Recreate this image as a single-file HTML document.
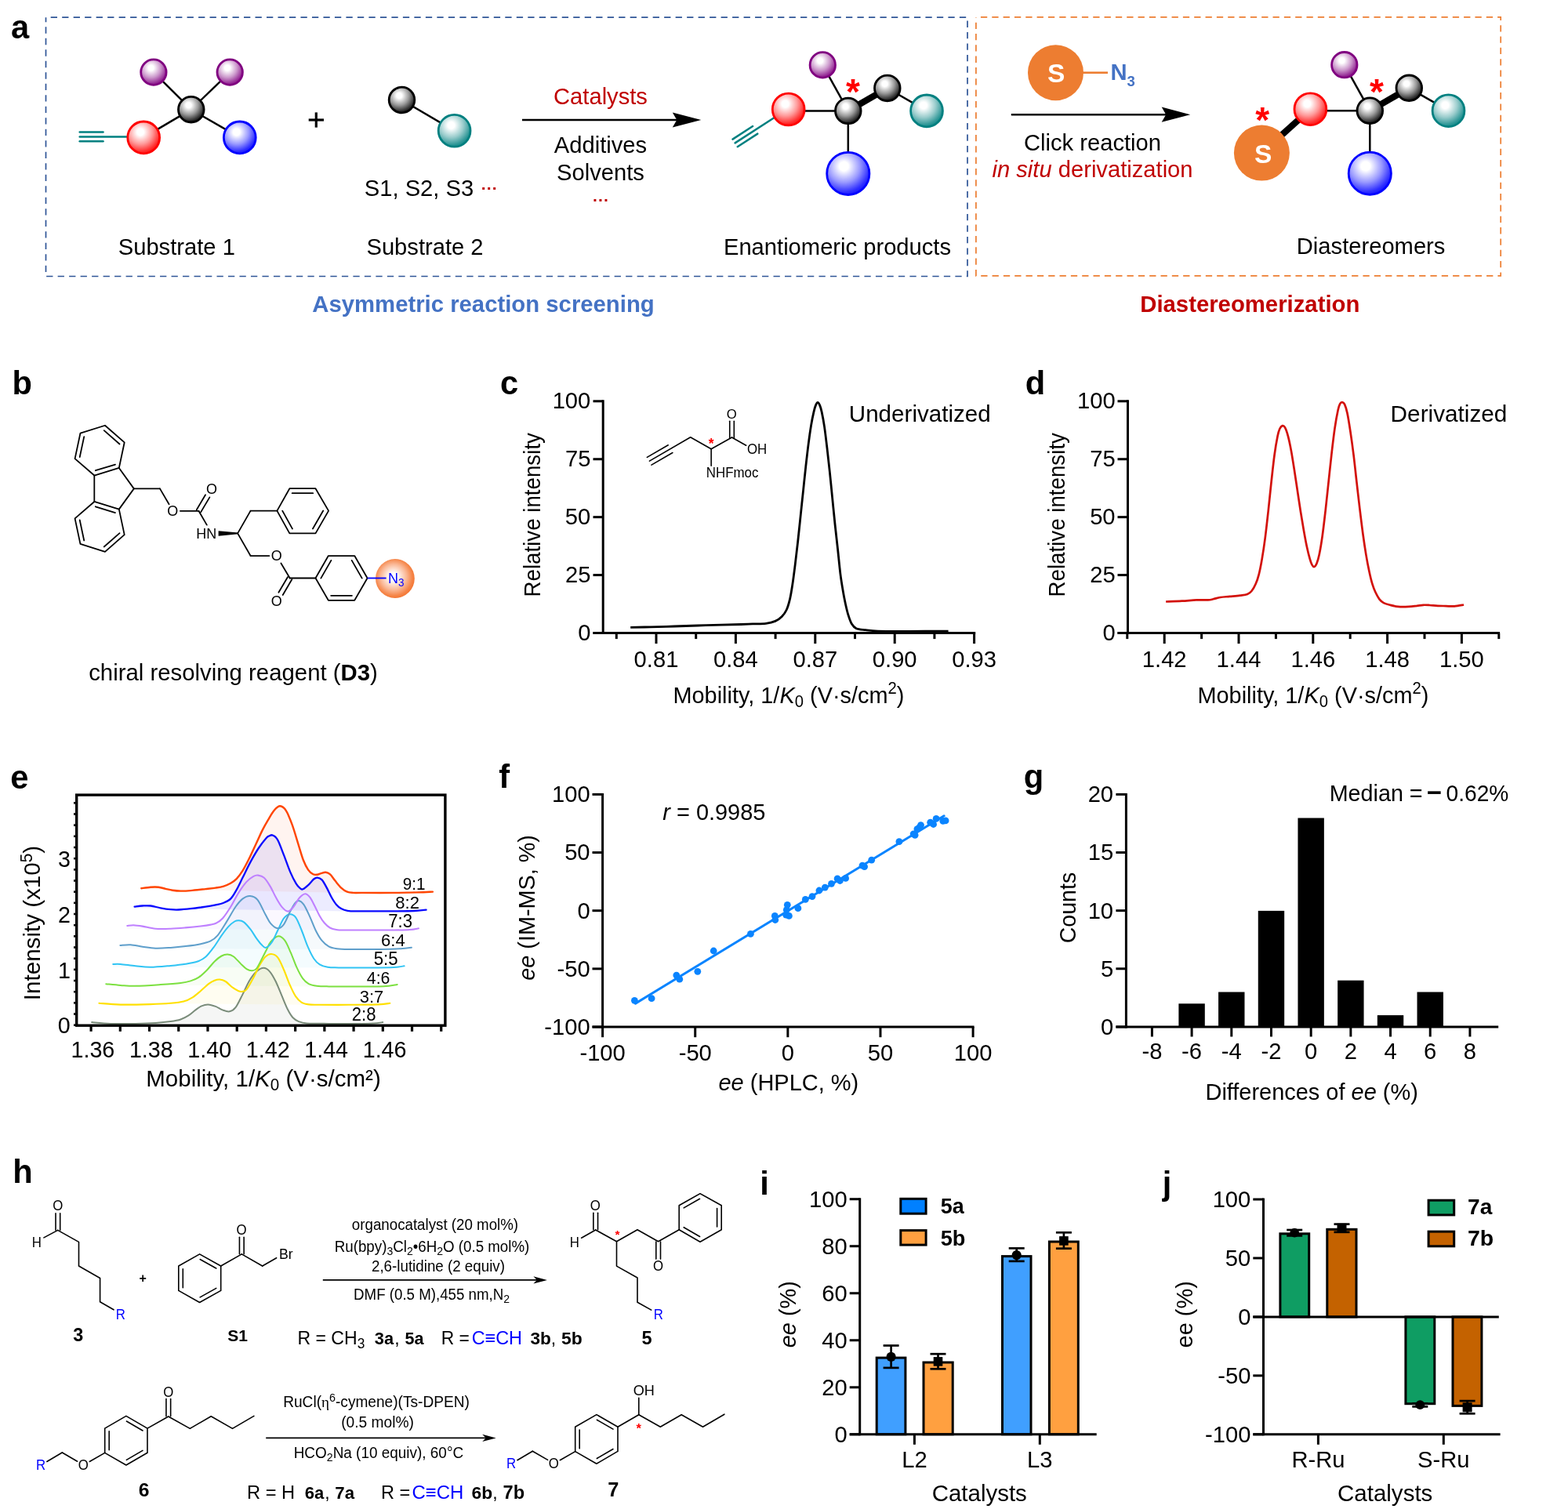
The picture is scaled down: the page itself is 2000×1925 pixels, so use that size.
<!DOCTYPE html>
<html lang="en"><head><meta charset="utf-8"><title>Figure</title>
<style>html,body{margin:0;padding:0;background:#fff}svg{display:block}</style></head>
<body>
<svg width="2000" height="1925" viewBox="0 0 2000 1925" font-family='"Liberation Sans", sans-serif' fill="#000">
<defs>
<radialGradient id="g_pu" cx="0.40" cy="0.33" r="0.76" fx="0.40" fy="0.33"><stop offset="0" stop-color="#fff"/><stop offset="0.14" stop-color="#fff"/><stop offset="0.5" stop-color="#cc99cc"/><stop offset="0.8" stop-color="#972e97"/><stop offset="1" stop-color="#800080"/></radialGradient>
<radialGradient id="g_bk" cx="0.40" cy="0.33" r="0.76" fx="0.40" fy="0.33"><stop offset="0" stop-color="#fff"/><stop offset="0.14" stop-color="#fff"/><stop offset="0.5" stop-color="#999999"/><stop offset="0.8" stop-color="#2e2e2e"/><stop offset="1" stop-color="#000000"/></radialGradient>
<radialGradient id="g_rd" cx="0.40" cy="0.33" r="0.76" fx="0.40" fy="0.33"><stop offset="0" stop-color="#fff"/><stop offset="0.14" stop-color="#fff"/><stop offset="0.5" stop-color="#ff9999"/><stop offset="0.8" stop-color="#ff2e2e"/><stop offset="1" stop-color="#FF0000"/></radialGradient>
<radialGradient id="g_bl" cx="0.40" cy="0.33" r="0.76" fx="0.40" fy="0.33"><stop offset="0" stop-color="#fff"/><stop offset="0.14" stop-color="#fff"/><stop offset="0.5" stop-color="#9999ff"/><stop offset="0.8" stop-color="#2e2eff"/><stop offset="1" stop-color="#0000FF"/></radialGradient>
<radialGradient id="g_tl" cx="0.40" cy="0.33" r="0.76" fx="0.40" fy="0.33"><stop offset="0" stop-color="#fff"/><stop offset="0.14" stop-color="#fff"/><stop offset="0.5" stop-color="#99cccc"/><stop offset="0.8" stop-color="#2e9797"/><stop offset="1" stop-color="#008080"/></radialGradient>
<radialGradient id="g_or" cx="0.47" cy="0.47" r="0.55" fx="0.45" fy="0.45"><stop offset="0" stop-color="#fff"/><stop offset="0.18" stop-color="#fff"/><stop offset="0.6" stop-color="#fab896"/><stop offset="0.86" stop-color="#f58548"/><stop offset="1" stop-color="#f47430"/></radialGradient>
</defs>
<!-- panel a -->
<text font-size="41.67" transform="translate(13.97 48.60)" font-weight="bold">a</text>
<path d="M58.5,22.2 H1234 V352.5 H58.5 Z" fill="none" stroke="#2F5597" stroke-width="1.7" stroke-dasharray="8.3 6.19" stroke-dashoffset="8.3"/>
<path d="M1244.9,21.9 H1914.2 V351.9 H1244.9 Z" fill="none" stroke="#ED7D31" stroke-width="1.7" stroke-dasharray="8.3 6.03" stroke-dashoffset="8.3"/>
<line x1="243.80" y1="139.70" x2="195.90" y2="92.10" stroke="#000" stroke-width="2.5" stroke-linecap="butt" />
<line x1="243.80" y1="139.70" x2="293.20" y2="92.10" stroke="#000" stroke-width="2.5" stroke-linecap="butt" />
<line x1="243.80" y1="139.70" x2="183.20" y2="175.40" stroke="#000" stroke-width="2.5" stroke-linecap="butt" />
<line x1="243.80" y1="139.70" x2="305.80" y2="175.40" stroke="#000" stroke-width="2.5" stroke-linecap="butt" />
<line x1="101.70" y1="168.50" x2="131.50" y2="168.50" stroke="#008080" stroke-width="2.5" stroke-linecap="round" />
<line x1="101.70" y1="180.30" x2="131.50" y2="180.30" stroke="#008080" stroke-width="2.5" stroke-linecap="round" />
<line x1="101.70" y1="174.40" x2="165.00" y2="174.40" stroke="#008080" stroke-width="2.5" stroke-linecap="round" />
<circle cx="195.90" cy="92.10" r="16.20" fill="url(#g_pu)" stroke="#800080" stroke-width="2.8" />
<circle cx="293.20" cy="92.10" r="16.20" fill="url(#g_pu)" stroke="#800080" stroke-width="2.8" />
<circle cx="243.80" cy="139.70" r="16.30" fill="url(#g_bk)" stroke="#000000" stroke-width="2.8" />
<circle cx="183.20" cy="175.40" r="20.40" fill="url(#g_rd)" stroke="#FF0000" stroke-width="2.8" />
<circle cx="305.80" cy="175.40" r="20.40" fill="url(#g_bl)" stroke="#0000FF" stroke-width="2.8" />
<line x1="393.70" y1="153.00" x2="413.00" y2="153.00" stroke="#000" stroke-width="3.2" stroke-linecap="butt" />
<line x1="403.30" y1="143.40" x2="403.30" y2="162.60" stroke="#000" stroke-width="3.2" stroke-linecap="butt" />
<line x1="512.50" y1="127.50" x2="579.60" y2="166.80" stroke="#000" stroke-width="2.5" stroke-linecap="butt" />
<circle cx="512.50" cy="127.50" r="16.30" fill="url(#g_bk)" stroke="#000000" stroke-width="2.8" />
<circle cx="579.60" cy="166.80" r="20.40" fill="url(#g_tl)" stroke="#008080" stroke-width="2.8" />
<text font-size="29.17" transform="translate(534.50 250.00) scale(1 1.038)" text-anchor="middle">S1, S2, S3</text>
<text font-size="21.00" transform="translate(613.70 246.50)" font-weight="bold" fill="#C00000">···</text>
<text font-size="29.17" transform="translate(225.30 325.20) scale(1 1.038)" text-anchor="middle">Substrate 1</text>
<text font-size="29.17" transform="translate(542.00 325.20) scale(1 1.038)" text-anchor="middle">Substrate 2</text>
<line x1="666.00" y1="153.00" x2="864.30" y2="153.00" stroke="#000" stroke-width="2.5" stroke-linecap="butt" />
<path d="M894.30,153.00 L857.80,143.40 L863.30,153.00 L857.80,162.60 Z" fill="#000"/>
<text font-size="29.17" transform="translate(766.00 132.90) scale(1 1.038)" text-anchor="middle" fill="#C00000">Catalysts</text>
<text font-size="29.17" transform="translate(766.00 195.30) scale(1 1.038)" text-anchor="middle">Additives</text>
<text font-size="29.17" transform="translate(766.00 230.30) scale(1 1.038)" text-anchor="middle">Solvents</text>
<text font-size="21.00" transform="translate(766.40 261.60)" text-anchor="middle" font-weight="bold" fill="#C00000">···</text>
<line x1="1081.80" y1="141.40" x2="1049.30" y2="82.90" stroke="#000" stroke-width="2.5" stroke-linecap="butt" />
<line x1="1081.80" y1="141.40" x2="1005.70" y2="141.40" stroke="#000" stroke-width="2.5" stroke-linecap="butt" />
<line x1="1081.80" y1="141.40" x2="1081.80" y2="221.40" stroke="#000" stroke-width="2.5" stroke-linecap="butt" />
<line x1="1131.80" y1="112.50" x2="1182.00" y2="141.40" stroke="#000" stroke-width="2.5" stroke-linecap="butt" />
<line x1="1081.80" y1="141.40" x2="1131.80" y2="112.50" stroke="#000" stroke-width="8.2" stroke-linecap="butt" />
<line x1="987.30" y1="150.30" x2="937.60" y2="182.40" stroke="#008080" stroke-width="2.5" stroke-linecap="round" />
<line x1="934.51" y1="177.61" x2="960.13" y2="161.06" stroke="#008080" stroke-width="2.5" stroke-linecap="round" />
<line x1="940.69" y1="187.19" x2="966.31" y2="170.64" stroke="#008080" stroke-width="2.5" stroke-linecap="round" />
<circle cx="1049.30" cy="82.90" r="16.20" fill="url(#g_pu)" stroke="#800080" stroke-width="2.8" />
<circle cx="1005.70" cy="139.50" r="20.40" fill="url(#g_rd)" stroke="#FF0000" stroke-width="2.8" />
<circle cx="1081.80" cy="141.40" r="16.30" fill="url(#g_bk)" stroke="#000000" stroke-width="2.8" />
<circle cx="1131.80" cy="112.50" r="16.30" fill="url(#g_bk)" stroke="#000000" stroke-width="2.8" />
<circle cx="1182.00" cy="141.40" r="20.40" fill="url(#g_tl)" stroke="#008080" stroke-width="2.8" />
<circle cx="1081.80" cy="221.40" r="27.10" fill="url(#g_bl)" stroke="#0000FF" stroke-width="2.8" />
<text font-size="46.00" transform="translate(1078.93 132.93)" font-weight="bold" fill="#FF0000">*</text>
<text font-size="29.17" transform="translate(1068.00 325.20) scale(1 1.038)" text-anchor="middle">Enantiomeric products</text>
<text font-size="29.30" transform="translate(616.50 397.50)" text-anchor="middle" font-weight="bold" fill="#4472C4">Asymmetric reaction screening</text>
<circle cx="1346.50" cy="92.70" r="35.50" fill="#ED7D31" stroke="none" stroke-width="0" />
<text font-size="33.50" transform="translate(1335.94 105.16)" font-weight="bold" fill="#fff">S</text>
<line x1="1381.00" y1="92.70" x2="1413.00" y2="92.70" stroke="#ED7D31" stroke-width="2.6" stroke-linecap="butt" />
<text font-size="29.20" transform="translate(1416.50 102.30)" font-weight="bold" fill="#4472C4">N<tspan font-size="18.5" dy="7.5">3</tspan></text>
<line x1="1289.80" y1="146.20" x2="1488.20" y2="146.20" stroke="#000" stroke-width="2.5" stroke-linecap="butt" />
<path d="M1518.20,146.20 L1481.70,136.60 L1487.20,146.20 L1481.70,155.80 Z" fill="#000"/>
<text font-size="29.17" transform="translate(1393.50 191.80) scale(1 1.038)" text-anchor="middle">Click reaction</text>
<text font-size="29.17" transform="translate(1393.50 225.90) scale(1 1.038)" text-anchor="middle" fill="#C00000"><tspan font-style="italic">in situ</tspan> derivatization</text>
<line x1="1747.30" y1="141.20" x2="1714.80" y2="82.70" stroke="#000" stroke-width="2.5" stroke-linecap="butt" />
<line x1="1747.30" y1="141.20" x2="1671.40" y2="141.20" stroke="#000" stroke-width="2.5" stroke-linecap="butt" />
<line x1="1747.30" y1="141.20" x2="1747.30" y2="221.20" stroke="#000" stroke-width="2.5" stroke-linecap="butt" />
<line x1="1797.30" y1="112.30" x2="1847.50" y2="141.20" stroke="#000" stroke-width="2.5" stroke-linecap="butt" />
<line x1="1747.30" y1="141.20" x2="1797.30" y2="112.30" stroke="#000" stroke-width="8.2" stroke-linecap="butt" />
<line x1="1609.40" y1="195.10" x2="1671.40" y2="139.20" stroke="#000" stroke-width="8.2" stroke-linecap="butt" />
<circle cx="1609.40" cy="195.10" r="35.50" fill="#ED7D31" stroke="none" stroke-width="0" />
<text font-size="33.50" transform="translate(1599.94 208.16)" font-weight="bold" fill="#fff">S</text>
<text font-size="46.00" transform="translate(1601.23 168.93)" font-weight="bold" fill="#FF0000">*</text>
<circle cx="1714.80" cy="82.70" r="16.20" fill="url(#g_pu)" stroke="#800080" stroke-width="2.8" />
<circle cx="1671.40" cy="139.20" r="20.40" fill="url(#g_rd)" stroke="#FF0000" stroke-width="2.8" />
<circle cx="1747.30" cy="141.20" r="16.30" fill="url(#g_bk)" stroke="#000000" stroke-width="2.8" />
<circle cx="1797.30" cy="112.30" r="16.30" fill="url(#g_bk)" stroke="#000000" stroke-width="2.8" />
<circle cx="1847.50" cy="141.20" r="20.40" fill="url(#g_tl)" stroke="#008080" stroke-width="2.8" />
<circle cx="1747.30" cy="221.20" r="27.10" fill="url(#g_bl)" stroke="#0000FF" stroke-width="2.8" />
<text font-size="46.00" transform="translate(1747.03 133.23)" font-weight="bold" fill="#FF0000">*</text>
<text font-size="29.17" transform="translate(1748.60 324.30) scale(1 1.038)" text-anchor="middle">Diastereomers</text>
<text font-size="29.30" transform="translate(1594.30 398.00)" text-anchor="middle" font-weight="bold" fill="#C00000">Diastereomerization</text>
<!-- panel b -->
<text font-size="41.67" transform="translate(15.45 502.50)" font-weight="bold">b</text>
<path d="M102.45,552.70 L133.95,542.76 L158.70,564.44 L151.81,596.96 L120.31,606.53 L95.56,585.10 Z" stroke="#000" stroke-width="1.8" fill="none" stroke-linejoin="round" stroke-linecap="butt" />
<line x1="132.74" y1="549.14" x2="152.54" y2="566.48" stroke="#000" stroke-width="1.8" stroke-linecap="round" />
<line x1="147.03" y1="592.56" x2="121.83" y2="600.21" stroke="#000" stroke-width="1.8" stroke-linecap="round" />
<line x1="101.73" y1="583.02" x2="107.24" y2="557.10" stroke="#000" stroke-width="1.8" stroke-linecap="round" />
<path d="M120.31,639.95 L151.81,649.64 L158.70,682.17 L133.95,703.85 L102.45,693.90 L95.56,661.38 Z" stroke="#000" stroke-width="1.8" fill="none" stroke-linejoin="round" stroke-linecap="butt" />
<line x1="121.81" y1="646.27" x2="147.01" y2="654.02" stroke="#000" stroke-width="1.8" stroke-linecap="round" />
<line x1="152.54" y1="680.13" x2="132.74" y2="697.47" stroke="#000" stroke-width="1.8" stroke-linecap="round" />
<line x1="107.24" y1="689.49" x2="101.73" y2="663.47" stroke="#000" stroke-width="1.8" stroke-linecap="round" />
<path d="M151.81,596.96 L170.82,623.37 L151.81,649.64" stroke="#000" stroke-width="1.8" fill="none" stroke-linejoin="round" stroke-linecap="butt" />
<line x1="120.31" y1="606.53" x2="120.31" y2="639.95" stroke="#000" stroke-width="1.8" stroke-linecap="round" />
<line x1="170.82" y1="623.37" x2="203.98" y2="623.37" stroke="#000" stroke-width="1.8" stroke-linecap="round" />
<line x1="203.98" y1="623.37" x2="215.60" y2="643.30" stroke="#000" stroke-width="1.8" stroke-linecap="round" />
<text font-size="18.00" transform="translate(213.33 658.01) scale(1 1.038)">O</text>
<line x1="229.90" y1="651.80" x2="253.47" y2="651.80" stroke="#000" stroke-width="1.8" stroke-linecap="round" />
<line x1="256.14" y1="653.38" x2="267.38" y2="634.37" stroke="#000" stroke-width="1.8" stroke-linecap="round" />
<line x1="250.80" y1="650.22" x2="262.04" y2="631.21" stroke="#000" stroke-width="1.8" stroke-linecap="round" />
<text font-size="18.00" transform="translate(263.07 629.96) scale(1 1.038)">O</text>
<line x1="253.47" y1="651.80" x2="263.80" y2="669.60" stroke="#000" stroke-width="1.8" stroke-linecap="round" />
<text font-size="18.00" transform="translate(250.30 686.60) scale(1 1.038)">HN</text>
<path d="M303.74,679.50 L278.6,677.2 L278.6,683.8 L303.74,681.30 Z" fill="#000"/>
<line x1="303.14" y1="680.40" x2="319.59" y2="651.66" stroke="#000" stroke-width="1.8" stroke-linecap="round" />
<line x1="319.59" y1="651.66" x2="353.39" y2="651.66" stroke="#000" stroke-width="1.8" stroke-linecap="round" />
<path d="M353.39,651.66 L369.34,623.21 L402.50,623.21 L419.08,651.66 L402.50,680.36 L369.34,680.36 Z" stroke="#000" stroke-width="1.8" fill="none" stroke-linejoin="round" stroke-linecap="butt" />
<line x1="372.66" y1="629.21" x2="399.18" y2="629.21" stroke="#000" stroke-width="1.8" stroke-linecap="round" />
<line x1="412.23" y1="651.53" x2="398.96" y2="674.49" stroke="#000" stroke-width="1.8" stroke-linecap="round" />
<line x1="372.99" y1="674.58" x2="360.23" y2="651.62" stroke="#000" stroke-width="1.8" stroke-linecap="round" />
<line x1="303.14" y1="680.40" x2="319.59" y2="709.06" stroke="#000" stroke-width="1.8" stroke-linecap="round" />
<line x1="319.59" y1="709.06" x2="343.40" y2="709.06" stroke="#000" stroke-width="1.8" stroke-linecap="round" />
<text font-size="18.00" transform="translate(345.78 715.27) scale(1 1.038)">O</text>
<line x1="358.40" y1="718.50" x2="369.72" y2="737.50" stroke="#000" stroke-width="1.8" stroke-linecap="round" />
<line x1="367.05" y1="735.93" x2="355.39" y2="755.82" stroke="#000" stroke-width="1.8" stroke-linecap="round" />
<line x1="372.39" y1="739.07" x2="360.74" y2="758.96" stroke="#000" stroke-width="1.8" stroke-linecap="round" />
<text font-size="18.00" transform="translate(345.78 772.66) scale(1 1.038)">O</text>
<line x1="369.72" y1="737.50" x2="402.50" y2="737.50" stroke="#000" stroke-width="1.8" stroke-linecap="round" />
<path d="M402.50,737.50 L418.83,709.06 L452.24,709.06 L468.57,737.50 L452.24,765.80 L418.83,765.80 Z" stroke="#000" stroke-width="1.8" fill="none" stroke-linejoin="round" stroke-linecap="butt" />
<line x1="409.34" y1="737.64" x2="422.40" y2="714.89" stroke="#000" stroke-width="1.8" stroke-linecap="round" />
<line x1="448.67" y1="714.89" x2="461.73" y2="737.64" stroke="#000" stroke-width="1.8" stroke-linecap="round" />
<line x1="448.90" y1="759.80" x2="422.17" y2="759.80" stroke="#000" stroke-width="1.8" stroke-linecap="round" />
<circle cx="503.90" cy="738.00" r="24.90" fill="url(#g_or)" stroke="none" stroke-width="0" />
<line x1="468.57" y1="737.50" x2="492.60" y2="737.50" stroke="#0000FF" stroke-width="1.8" stroke-linecap="butt" />
<text font-size="18.00" transform="translate(495.00 743.90) scale(1 1.038)" fill="#0000FF">N<tspan font-size="13.5" dy="4.2">3</tspan></text>
<text font-size="29.37" transform="translate(113.13 867.70) scale(1 1.0310730024596886)">chiral resolving reagent (<tspan font-weight="bold">D3</tspan>)</text>
<!-- panel c -->
<text font-size="41.67" transform="translate(637.93 502.50)" font-weight="bold">c</text>
<line x1="769.20" y1="510.30" x2="769.20" y2="809.00" stroke="#000" stroke-width="3.0" stroke-linecap="butt" />
<line x1="756.50" y1="511.80" x2="769.20" y2="511.80" stroke="#000" stroke-width="3.0" stroke-linecap="butt" />
<text font-size="29.17" transform="translate(704.65 521.25) scale(1 1.038)">100</text>
<line x1="756.50" y1="585.73" x2="769.20" y2="585.73" stroke="#000" stroke-width="3.0" stroke-linecap="butt" />
<text font-size="29.17" transform="translate(720.99 595.17) scale(1 1.038)">75</text>
<line x1="756.50" y1="659.65" x2="769.20" y2="659.65" stroke="#000" stroke-width="3.0" stroke-linecap="butt" />
<text font-size="29.17" transform="translate(720.84 669.10) scale(1 1.038)">50</text>
<line x1="756.50" y1="733.58" x2="769.20" y2="733.58" stroke="#000" stroke-width="3.0" stroke-linecap="butt" />
<text font-size="29.17" transform="translate(720.99 743.02) scale(1 1.038)">25</text>
<line x1="756.50" y1="807.50" x2="769.20" y2="807.50" stroke="#000" stroke-width="3.0" stroke-linecap="butt" />
<text font-size="29.17" transform="translate(737.18 816.95) scale(1 1.038)">0</text>
<text font-size="27.72" transform="translate(688.60 761.52) rotate(-90) scale(1 1.0923334387065642)">Relative intensity</text>
<line x1="756.50" y1="807.50" x2="1244.20" y2="807.50" stroke="#000" stroke-width="3.0" stroke-linecap="butt" />
<line x1="837.00" y1="807.50" x2="837.00" y2="821.10" stroke="#000" stroke-width="3.0" stroke-linecap="butt" />
<text font-size="29.17" transform="translate(837.00 850.50) scale(1 1.038)" text-anchor="middle">0.81</text>
<line x1="938.40" y1="807.50" x2="938.40" y2="821.10" stroke="#000" stroke-width="3.0" stroke-linecap="butt" />
<text font-size="29.17" transform="translate(938.40 850.50) scale(1 1.038)" text-anchor="middle">0.84</text>
<line x1="1039.80" y1="807.50" x2="1039.80" y2="821.10" stroke="#000" stroke-width="3.0" stroke-linecap="butt" />
<text font-size="29.17" transform="translate(1039.80 850.50) scale(1 1.038)" text-anchor="middle">0.87</text>
<line x1="1141.20" y1="807.50" x2="1141.20" y2="821.10" stroke="#000" stroke-width="3.0" stroke-linecap="butt" />
<text font-size="29.17" transform="translate(1141.20 850.50) scale(1 1.038)" text-anchor="middle">0.90</text>
<line x1="1242.60" y1="807.50" x2="1242.60" y2="821.10" stroke="#000" stroke-width="3.0" stroke-linecap="butt" />
<text font-size="29.17" transform="translate(1242.60 850.50) scale(1 1.038)" text-anchor="middle">0.93</text>
<line x1="786.30" y1="807.50" x2="786.30" y2="815.10" stroke="#000" stroke-width="3.0" stroke-linecap="butt" />
<line x1="887.70" y1="807.50" x2="887.70" y2="815.10" stroke="#000" stroke-width="3.0" stroke-linecap="butt" />
<line x1="989.10" y1="807.50" x2="989.10" y2="815.10" stroke="#000" stroke-width="3.0" stroke-linecap="butt" />
<line x1="1090.50" y1="807.50" x2="1090.50" y2="815.10" stroke="#000" stroke-width="3.0" stroke-linecap="butt" />
<line x1="1191.90" y1="807.50" x2="1191.90" y2="815.10" stroke="#000" stroke-width="3.0" stroke-linecap="butt" />
<text font-size="28.92" transform="translate(858.39 896.60) scale(1 1.046900377533494)">Mobility, 1/<tspan font-style="italic">K</tspan><tspan font-size="20.25" baseline-shift="-5.21">0</tspan> (V·s/cm<tspan font-size="20.25" baseline-shift="10.41">2</tspan>)</text>
<text font-size="29.61" transform="translate(1082.78 537.60) scale(1 1.0226896466930464)">Underivatized</text>
<path d="M804.20,800.40 C808.50,800.30 820.70,800.03 830.00,799.80 C839.30,799.57 850.00,799.30 860.00,799.00 C870.00,798.70 880.00,798.30 890.00,798.00 C900.00,797.70 910.83,797.45 920.00,797.20 C929.17,796.95 938.33,796.72 945.00,796.50 C951.67,796.28 954.67,796.10 960.00,795.90 C965.33,795.70 972.20,795.88 977.00,795.30 C981.80,794.72 985.42,793.88 988.80,792.40 C992.18,790.92 994.90,788.80 997.30,786.40 C999.70,784.00 1001.50,781.67 1003.20,778.00 C1004.90,774.33 1006.23,769.77 1007.50,764.40 C1008.77,759.03 1009.68,753.15 1010.80,745.80 C1011.92,738.45 1013.07,729.35 1014.20,720.30 C1015.33,711.25 1016.47,701.67 1017.60,691.50 C1018.73,681.33 1019.87,670.03 1021.00,659.30 C1022.13,648.57 1023.27,637.83 1024.40,627.10 C1025.53,616.37 1026.67,605.07 1027.80,594.90 C1028.93,584.73 1030.07,574.85 1031.20,566.10 C1032.33,557.35 1033.47,549.18 1034.60,542.40 C1035.73,535.62 1037.02,529.65 1038.00,525.40 C1038.98,521.15 1039.67,518.90 1040.50,516.90 C1041.33,514.90 1042.15,513.40 1043.00,513.40 C1043.85,513.40 1044.75,514.90 1045.60,516.90 C1046.45,518.90 1047.12,520.87 1048.10,525.40 C1049.08,529.93 1050.37,536.47 1051.50,544.10 C1052.63,551.73 1053.77,561.60 1054.90,571.20 C1056.03,580.80 1057.17,590.97 1058.30,601.70 C1059.43,612.43 1060.57,624.30 1061.70,635.60 C1062.83,646.90 1063.97,658.77 1065.10,669.50 C1066.23,680.23 1067.37,689.55 1068.50,700.00 C1069.63,710.45 1070.77,723.17 1071.90,732.20 C1073.03,741.23 1074.18,747.70 1075.30,754.20 C1076.42,760.70 1077.48,766.12 1078.60,771.20 C1079.72,776.28 1080.72,780.60 1082.00,784.70 C1083.28,788.80 1084.60,792.97 1086.30,795.80 C1088.00,798.63 1089.25,800.38 1092.20,801.70 C1095.15,803.02 1099.37,803.13 1104.00,803.70 C1108.63,804.27 1112.33,804.82 1120.00,805.10 C1127.67,805.38 1140.00,805.38 1150.00,805.40 C1160.00,805.42 1170.07,805.23 1180.00,805.20 C1189.93,805.17 1204.67,805.20 1209.60,805.20" stroke="#000" stroke-width="2.8" fill="none" stroke-linejoin="round" stroke-linecap="butt" />
<line x1="828.40" y1="588.10" x2="880.70" y2="557.75" stroke="#000" stroke-width="1.6" stroke-linecap="round" />
<line x1="830.95" y1="593.10" x2="857.88" y2="577.49" stroke="#000" stroke-width="1.6" stroke-linecap="round" />
<line x1="825.33" y1="583.40" x2="852.26" y2="567.80" stroke="#000" stroke-width="1.6" stroke-linecap="round" />
<line x1="880.70" y1="557.75" x2="907.15" y2="572.70" stroke="#000" stroke-width="1.6" stroke-linecap="round" />
<line x1="907.15" y1="572.70" x2="933.50" y2="558.00" stroke="#000" stroke-width="1.6" stroke-linecap="round" />
<line x1="907.15" y1="572.70" x2="907.15" y2="594.30" stroke="#000" stroke-width="1.6" stroke-linecap="round" />
<line x1="930.75" y1="558.40" x2="930.75" y2="537.30" stroke="#000" stroke-width="1.6" stroke-linecap="round" />
<line x1="936.30" y1="558.40" x2="936.30" y2="537.30" stroke="#000" stroke-width="1.6" stroke-linecap="round" />
<text font-size="16.70" transform="translate(926.73 534.28) scale(1 1.038)">O</text>
<line x1="933.50" y1="558.00" x2="951.70" y2="568.20" stroke="#000" stroke-width="1.6" stroke-linecap="round" />
<text font-size="16.87" transform="translate(952.94 578.80) scale(1 1.038)">OH</text>
<text font-size="16.92" transform="translate(900.75 609.10) scale(1 1.038)">NHFmoc</text>
<text font-size="17.50" transform="translate(903.84 572.09)" font-weight="bold" fill="#FF0000">*</text>
<!-- panel d -->
<text font-size="41.67" transform="translate(1307.81 502.50)" font-weight="bold">d</text>
<line x1="1438.50" y1="510.30" x2="1438.50" y2="809.00" stroke="#000" stroke-width="3.0" stroke-linecap="butt" />
<line x1="1425.50" y1="511.80" x2="1438.50" y2="511.80" stroke="#000" stroke-width="3.0" stroke-linecap="butt" />
<text font-size="29.17" transform="translate(1373.95 521.25) scale(1 1.038)">100</text>
<line x1="1425.50" y1="585.73" x2="1438.50" y2="585.73" stroke="#000" stroke-width="3.0" stroke-linecap="butt" />
<text font-size="29.17" transform="translate(1390.29 595.17) scale(1 1.038)">75</text>
<line x1="1425.50" y1="659.65" x2="1438.50" y2="659.65" stroke="#000" stroke-width="3.0" stroke-linecap="butt" />
<text font-size="29.17" transform="translate(1390.14 669.10) scale(1 1.038)">50</text>
<line x1="1425.50" y1="733.58" x2="1438.50" y2="733.58" stroke="#000" stroke-width="3.0" stroke-linecap="butt" />
<text font-size="29.17" transform="translate(1390.29 743.02) scale(1 1.038)">25</text>
<line x1="1425.50" y1="807.50" x2="1438.50" y2="807.50" stroke="#000" stroke-width="3.0" stroke-linecap="butt" />
<text font-size="29.17" transform="translate(1406.48 816.95) scale(1 1.038)">0</text>
<text font-size="27.72" transform="translate(1357.90 761.52) rotate(-90) scale(1 1.0923334387065642)">Relative intensity</text>
<line x1="1425.50" y1="807.50" x2="1913.00" y2="807.50" stroke="#000" stroke-width="3.0" stroke-linecap="butt" />
<line x1="1485.20" y1="807.50" x2="1485.20" y2="821.10" stroke="#000" stroke-width="3.0" stroke-linecap="butt" />
<text font-size="29.17" transform="translate(1485.20 850.50) scale(1 1.038)" text-anchor="middle">1.42</text>
<line x1="1580.00" y1="807.50" x2="1580.00" y2="821.10" stroke="#000" stroke-width="3.0" stroke-linecap="butt" />
<text font-size="29.17" transform="translate(1580.00 850.50) scale(1 1.038)" text-anchor="middle">1.44</text>
<line x1="1674.80" y1="807.50" x2="1674.80" y2="821.10" stroke="#000" stroke-width="3.0" stroke-linecap="butt" />
<text font-size="29.17" transform="translate(1674.80 850.50) scale(1 1.038)" text-anchor="middle">1.46</text>
<line x1="1769.60" y1="807.50" x2="1769.60" y2="821.10" stroke="#000" stroke-width="3.0" stroke-linecap="butt" />
<text font-size="29.17" transform="translate(1769.60 850.50) scale(1 1.038)" text-anchor="middle">1.48</text>
<line x1="1864.40" y1="807.50" x2="1864.40" y2="821.10" stroke="#000" stroke-width="3.0" stroke-linecap="butt" />
<text font-size="29.17" transform="translate(1864.40 850.50) scale(1 1.038)" text-anchor="middle">1.50</text>
<line x1="1437.80" y1="807.50" x2="1437.80" y2="815.10" stroke="#000" stroke-width="3.0" stroke-linecap="butt" />
<line x1="1532.60" y1="807.50" x2="1532.60" y2="815.10" stroke="#000" stroke-width="3.0" stroke-linecap="butt" />
<line x1="1627.40" y1="807.50" x2="1627.40" y2="815.10" stroke="#000" stroke-width="3.0" stroke-linecap="butt" />
<line x1="1722.20" y1="807.50" x2="1722.20" y2="815.10" stroke="#000" stroke-width="3.0" stroke-linecap="butt" />
<line x1="1817.00" y1="807.50" x2="1817.00" y2="815.10" stroke="#000" stroke-width="3.0" stroke-linecap="butt" />
<line x1="1911.80" y1="807.50" x2="1911.80" y2="815.10" stroke="#000" stroke-width="3.0" stroke-linecap="butt" />
<text font-size="28.92" transform="translate(1527.39 896.60) scale(1 1.046900377533494)">Mobility, 1/<tspan font-style="italic">K</tspan><tspan font-size="20.25" baseline-shift="-5.21">0</tspan> (V·s/cm<tspan font-size="20.25" baseline-shift="10.41">2</tspan>)</text>
<text font-size="29.75" transform="translate(1773.62 537.60) scale(1 1.017657784232366)">Derivatized</text>
<path d="M1487.10,767.50 C1490.52,767.37 1501.10,767.05 1507.60,766.70 C1514.10,766.35 1520.58,765.62 1526.10,765.40 C1531.62,765.18 1537.15,765.58 1540.70,765.40 C1544.25,765.22 1544.75,764.87 1547.40,764.30 C1550.05,763.73 1553.07,762.57 1556.60,762.00 C1560.13,761.43 1564.40,761.30 1568.60,760.90 C1572.80,760.50 1578.05,760.08 1581.80,759.60 C1585.55,759.12 1588.67,758.93 1591.10,758.00 C1593.53,757.07 1594.63,756.22 1596.40,754.00 C1598.17,751.78 1600.15,748.23 1601.70,744.70 C1603.25,741.17 1604.37,738.10 1605.70,732.80 C1607.03,727.50 1608.37,720.65 1609.70,712.90 C1611.03,705.15 1612.37,696.48 1613.70,686.30 C1615.03,676.12 1616.38,663.73 1617.70,651.80 C1619.02,639.87 1620.28,626.63 1621.60,614.70 C1622.92,602.77 1624.27,589.93 1625.60,580.20 C1626.93,570.47 1628.48,561.83 1629.60,556.30 C1630.72,550.77 1631.28,549.20 1632.30,547.00 C1633.32,544.80 1634.60,543.40 1635.70,543.10 C1636.80,542.80 1637.70,543.00 1638.90,545.20 C1640.10,547.40 1641.57,551.35 1642.90,556.30 C1644.23,561.25 1645.58,567.82 1646.90,574.90 C1648.22,581.98 1649.48,590.40 1650.80,598.80 C1652.12,607.20 1653.47,616.47 1654.80,625.30 C1656.13,634.13 1657.47,643.40 1658.80,651.80 C1660.13,660.20 1661.47,668.17 1662.80,675.70 C1664.13,683.23 1665.48,690.80 1666.80,697.00 C1668.12,703.20 1669.60,709.02 1670.70,712.90 C1671.80,716.78 1672.47,718.62 1673.40,720.30 C1674.33,721.98 1675.28,723.27 1676.30,723.00 C1677.32,722.73 1678.43,721.27 1679.50,718.70 C1680.57,716.13 1681.50,713.43 1682.70,707.60 C1683.90,701.77 1685.38,693.00 1686.70,683.70 C1688.02,674.40 1689.28,663.30 1690.60,651.80 C1691.92,640.30 1693.27,627.07 1694.60,614.70 C1695.93,602.33 1697.27,589.10 1698.60,577.60 C1699.93,566.10 1701.27,554.77 1702.60,545.70 C1703.93,536.63 1705.50,528.28 1706.60,523.20 C1707.70,518.12 1708.32,516.88 1709.20,515.20 C1710.08,513.52 1710.93,513.02 1711.90,513.10 C1712.87,513.18 1713.90,513.37 1715.00,515.70 C1716.10,518.03 1717.25,521.22 1718.50,527.10 C1719.75,532.98 1721.17,542.15 1722.50,551.00 C1723.83,559.85 1725.18,569.58 1726.50,580.20 C1727.82,590.82 1729.08,603.20 1730.40,614.70 C1731.72,626.20 1733.07,638.15 1734.40,649.20 C1735.73,660.25 1737.07,671.27 1738.40,681.00 C1739.73,690.73 1741.07,699.63 1742.40,707.60 C1743.73,715.57 1745.08,722.62 1746.40,728.80 C1747.72,734.98 1748.98,740.28 1750.30,744.70 C1751.62,749.12 1752.75,751.98 1754.30,755.30 C1755.85,758.62 1757.83,762.30 1759.60,764.60 C1761.37,766.90 1762.68,767.90 1764.90,769.10 C1767.12,770.30 1769.80,771.00 1772.90,771.80 C1776.00,772.60 1779.52,773.55 1783.50,773.90 C1787.48,774.25 1792.82,774.08 1796.80,773.90 C1800.78,773.72 1804.32,773.15 1807.40,772.80 C1810.48,772.45 1812.65,771.93 1815.30,771.80 C1817.95,771.67 1820.20,771.83 1823.30,772.00 C1826.40,772.17 1830.37,772.62 1833.90,772.80 C1837.43,772.98 1840.97,773.00 1844.50,773.10 C1848.03,773.20 1851.33,773.67 1855.10,773.40 C1858.87,773.13 1865.10,771.82 1867.10,771.50" stroke="#D3110B" stroke-width="2.7" fill="none" stroke-linejoin="round" stroke-linecap="butt" />
<!-- panel e -->
<text font-size="41.67" transform="translate(13.23 1006.10)" font-weight="bold">e</text>
<path d="M180.30,1133.20 C182.25,1132.95 188.35,1131.95 192.00,1131.70 C195.65,1131.45 199.00,1131.35 202.20,1131.70 C205.40,1132.05 208.22,1133.13 211.20,1133.80 C214.18,1134.47 216.92,1135.23 220.10,1135.70 C223.28,1136.17 226.47,1136.53 230.30,1136.60 C234.13,1136.67 237.78,1136.52 243.10,1136.10 C248.42,1135.68 256.88,1134.68 262.20,1134.10 C267.52,1133.52 271.17,1133.18 275.00,1132.60 C278.83,1132.02 282.02,1131.57 285.20,1130.60 C288.38,1129.63 291.35,1128.38 294.10,1126.80 C296.85,1125.22 299.15,1123.75 301.70,1121.10 C304.25,1118.45 306.85,1114.95 309.40,1110.90 C311.95,1106.85 314.23,1102.33 317.00,1096.80 C319.77,1091.27 323.02,1084.07 326.00,1077.70 C328.98,1071.33 332.23,1063.92 334.90,1058.60 C337.57,1053.28 339.53,1049.95 342.00,1045.80 C344.47,1041.65 347.15,1036.62 349.70,1033.70 C352.25,1030.78 354.75,1028.20 357.30,1028.30 C359.85,1028.40 362.43,1030.32 365.00,1034.30 C367.57,1038.28 370.15,1045.18 372.70,1052.20 C375.25,1059.22 377.97,1068.97 380.30,1076.40 C382.63,1083.83 384.57,1091.27 386.70,1096.80 C388.83,1102.33 390.98,1106.52 393.10,1109.60 C395.22,1112.68 397.50,1114.28 399.40,1115.30 C401.30,1116.32 402.80,1115.90 404.50,1115.70 C406.20,1115.50 407.78,1114.58 409.60,1114.10 C411.42,1113.62 413.48,1112.60 415.40,1112.80 C417.32,1113.00 419.08,1113.50 421.10,1115.30 C423.12,1117.10 425.15,1120.72 427.50,1123.60 C429.85,1126.48 432.65,1130.25 435.20,1132.60 C437.75,1134.95 441.53,1136.85 442.80,1137.70 L442.80,1138.90 L180.30,1133.80 Z" stroke="none" stroke-width="0" fill="#FF4500" stroke-linejoin="round" stroke-linecap="butt" fill-opacity="0.06"/>
<path d="M171.60,1156.60 C173.30,1156.42 178.40,1155.68 181.80,1155.50 C185.20,1155.32 188.17,1155.03 192.00,1155.50 C195.83,1155.97 200.53,1157.52 204.80,1158.30 C209.07,1159.08 213.77,1159.83 217.60,1160.20 C221.43,1160.57 223.55,1160.67 227.80,1160.50 C232.05,1160.33 237.37,1159.85 243.10,1159.20 C248.83,1158.55 256.88,1157.42 262.20,1156.60 C267.52,1155.78 271.28,1155.07 275.00,1154.30 C278.72,1153.53 281.32,1153.28 284.50,1152.00 C287.68,1150.72 291.23,1149.42 294.10,1146.60 C296.97,1143.78 299.15,1139.57 301.70,1135.10 C304.25,1130.63 306.42,1125.75 309.40,1119.80 C312.38,1113.85 316.20,1105.70 319.60,1099.40 C323.00,1093.10 326.48,1087.03 329.80,1082.00 C333.12,1076.97 337.20,1071.82 339.50,1069.20 C341.80,1066.58 342.30,1066.95 343.60,1066.30 C344.90,1065.65 346.02,1065.08 347.30,1065.30 C348.58,1065.52 349.98,1066.23 351.30,1067.60 C352.62,1068.97 353.35,1069.48 355.20,1073.50 C357.05,1077.52 359.92,1085.27 362.40,1091.70 C364.88,1098.13 367.53,1106.15 370.10,1112.10 C372.67,1118.05 375.67,1123.88 377.80,1127.40 C379.93,1130.92 381.45,1132.05 382.90,1133.20 C384.35,1134.35 384.80,1134.97 386.50,1134.30 C388.20,1133.63 390.82,1131.33 393.10,1129.20 C395.38,1127.07 398.25,1123.10 400.20,1121.50 C402.15,1119.90 403.07,1119.45 404.80,1119.60 C406.53,1119.75 408.62,1120.27 410.60,1122.40 C412.58,1124.53 414.65,1128.68 416.70,1132.40 C418.75,1136.12 420.85,1141.12 422.90,1144.70 C424.95,1148.28 426.97,1151.52 429.00,1153.90 C431.03,1156.28 432.72,1157.68 435.10,1159.00 C437.48,1160.32 441.93,1161.33 443.30,1161.80 L443.30,1162.40 L171.60,1158.30 Z" stroke="none" stroke-width="0" fill="#0A0AFF" stroke-linejoin="round" stroke-linecap="butt" fill-opacity="0.08"/>
<path d="M162.30,1181.00 C163.65,1180.87 167.15,1180.10 170.40,1180.20 C173.65,1180.30 177.13,1180.85 181.80,1181.60 C186.47,1182.35 192.43,1184.18 198.40,1184.70 C204.37,1185.22 211.22,1184.92 217.60,1184.70 C223.98,1184.48 230.33,1183.93 236.70,1183.40 C243.07,1182.87 250.48,1182.13 255.80,1181.50 C261.12,1180.87 265.23,1180.27 268.60,1179.60 C271.97,1178.93 273.43,1178.85 276.00,1177.50 C278.57,1176.15 280.98,1174.92 284.00,1171.50 C287.02,1168.08 290.72,1162.43 294.10,1157.00 C297.48,1151.57 300.90,1144.25 304.30,1138.90 C307.70,1133.55 311.32,1128.40 314.50,1124.90 C317.68,1121.40 320.95,1119.28 323.40,1117.90 C325.85,1116.52 326.95,1116.28 329.20,1116.60 C331.45,1116.92 334.33,1117.47 336.90,1119.80 C339.47,1122.13 342.05,1126.35 344.60,1130.60 C347.15,1134.85 349.65,1140.83 352.20,1145.30 C354.75,1149.77 357.37,1154.52 359.90,1157.40 C362.43,1160.28 364.98,1162.70 367.40,1162.60 C369.82,1162.50 371.97,1159.68 374.40,1156.80 C376.83,1153.92 379.53,1148.07 382.00,1145.30 C384.47,1142.53 386.98,1140.30 389.20,1140.20 C391.42,1140.10 393.27,1142.12 395.30,1144.70 C397.33,1147.28 399.35,1151.78 401.40,1155.70 C403.45,1159.62 405.55,1164.60 407.60,1168.20 C409.65,1171.80 411.50,1174.75 413.70,1177.30 C415.90,1179.85 418.25,1182.05 420.80,1183.50 C423.35,1184.95 427.63,1185.58 429.00,1186.00 L429.00,1186.50 L162.30,1184.70 Z" stroke="none" stroke-width="0" fill="#BF80FF" stroke-linejoin="round" stroke-linecap="butt" fill-opacity="0.055"/>
<path d="M153.40,1205.90 C155.58,1205.78 161.77,1204.90 166.50,1205.20 C171.23,1205.50 176.48,1206.95 181.80,1207.70 C187.12,1208.45 192.43,1209.50 198.40,1209.70 C204.37,1209.90 211.22,1209.33 217.60,1208.90 C223.98,1208.47 230.33,1207.88 236.70,1207.10 C243.07,1206.32 250.48,1205.32 255.80,1204.20 C261.12,1203.08 264.98,1202.20 268.60,1200.40 C272.22,1198.60 274.10,1197.48 277.50,1193.40 C280.90,1189.32 285.17,1182.00 289.00,1175.90 C292.83,1169.80 297.10,1161.68 300.50,1156.80 C303.90,1151.92 306.32,1148.90 309.40,1146.60 C312.48,1144.30 315.82,1142.78 319.00,1143.00 C322.18,1143.22 325.25,1143.98 328.50,1147.90 C331.75,1151.82 335.70,1161.47 338.50,1166.50 C341.30,1171.53 342.68,1175.15 345.30,1178.10 C347.92,1181.05 351.43,1184.00 354.20,1184.20 C356.97,1184.40 359.35,1182.67 361.90,1179.30 C364.45,1175.93 367.17,1168.45 369.50,1164.00 C371.83,1159.55 374.00,1155.12 375.90,1152.60 C377.80,1150.08 378.98,1148.70 380.90,1148.90 C382.82,1149.10 385.03,1150.43 387.40,1153.80 C389.77,1157.17 392.55,1163.57 395.10,1169.10 C397.65,1174.63 400.15,1181.90 402.70,1187.00 C405.25,1192.10 407.63,1196.30 410.40,1199.70 C413.17,1203.10 416.12,1205.65 419.30,1207.40 C422.48,1209.15 425.25,1209.60 429.50,1210.20 C433.75,1210.80 442.25,1210.87 444.80,1211.00 L444.80,1211.00 L153.40,1209.70 Z" stroke="none" stroke-width="0" fill="#5F9FCB" stroke-linejoin="round" stroke-linecap="butt" fill-opacity="0.055"/>
<path d="M144.20,1230.00 C145.80,1230.00 149.02,1229.62 153.80,1230.00 C158.58,1230.38 166.53,1231.67 172.90,1232.30 C179.27,1232.93 184.55,1233.87 192.00,1233.80 C199.45,1233.73 210.15,1232.58 217.60,1231.90 C225.05,1231.22 230.97,1230.60 236.70,1229.70 C242.43,1228.80 247.75,1227.98 252.00,1226.50 C256.25,1225.02 258.80,1223.77 262.20,1220.80 C265.60,1217.83 269.00,1213.27 272.40,1208.70 C275.80,1204.13 279.42,1197.87 282.60,1193.40 C285.78,1188.93 288.73,1184.88 291.50,1181.90 C294.27,1178.92 297.07,1176.78 299.20,1175.50 C301.33,1174.22 302.38,1174.10 304.30,1174.20 C306.22,1174.30 308.15,1174.18 310.70,1176.10 C313.25,1178.02 316.85,1182.18 319.60,1185.70 C322.35,1189.22 324.97,1194.07 327.20,1197.20 C329.43,1200.33 331.05,1202.55 333.00,1204.50 C334.95,1206.45 336.63,1209.27 338.90,1208.90 C341.17,1208.53 344.05,1205.95 346.60,1202.30 C349.15,1198.65 351.65,1192.10 354.20,1187.00 C356.75,1181.90 359.35,1175.15 361.90,1171.70 C364.45,1168.25 366.95,1166.52 369.50,1166.30 C372.05,1166.08 374.65,1166.95 377.20,1170.40 C379.75,1173.85 382.25,1180.83 384.80,1187.00 C387.35,1193.17 389.93,1201.45 392.50,1207.40 C395.07,1213.35 397.65,1218.87 400.20,1222.70 C402.75,1226.53 404.83,1228.55 407.80,1230.40 C410.77,1232.25 413.97,1233.13 418.00,1233.80 C422.03,1234.47 429.67,1234.30 432.00,1234.40 L432.00,1234.40 L144.20,1233.80 Z" stroke="none" stroke-width="0" fill="#30C4F4" stroke-linejoin="round" stroke-linecap="butt" fill-opacity="0.055"/>
<path d="M172.90,1257.80 C178.22,1257.52 195.23,1256.73 204.80,1256.10 C214.37,1255.47 223.92,1254.78 230.30,1254.00 C236.68,1253.22 239.27,1252.58 243.10,1251.40 C246.93,1250.22 249.90,1249.13 253.30,1246.90 C256.70,1244.67 260.10,1241.40 263.50,1238.00 C266.90,1234.60 270.52,1229.58 273.70,1226.50 C276.88,1223.42 279.83,1220.98 282.60,1219.50 C285.37,1218.02 287.75,1217.48 290.30,1217.60 C292.85,1217.72 295.15,1218.28 297.90,1220.20 C300.65,1222.12 304.03,1226.45 306.80,1229.10 C309.57,1231.75 312.05,1234.57 314.50,1236.10 C316.95,1237.63 319.38,1238.40 321.50,1238.30 C323.62,1238.20 324.97,1238.32 327.20,1235.50 C329.43,1232.68 332.77,1225.40 334.90,1221.40 C337.03,1217.40 338.27,1214.82 340.00,1211.50 C341.73,1208.18 342.82,1204.37 345.30,1201.50 C347.78,1198.63 351.92,1194.60 354.90,1194.30 C357.88,1194.00 360.55,1196.23 363.20,1199.70 C365.85,1203.17 368.25,1209.35 370.80,1215.10 C373.35,1220.85 375.95,1228.68 378.50,1234.20 C381.05,1239.72 383.55,1244.70 386.10,1248.20 C388.65,1251.70 390.82,1253.60 393.80,1255.20 C396.78,1256.80 402.30,1257.37 404.00,1257.80 L404.00,1258.40 L172.90,1256.10 Z" stroke="none" stroke-width="0" fill="#7CE040" stroke-linejoin="round" stroke-linecap="butt" fill-opacity="0.055"/>
<path d="M192.00,1281.10 C196.27,1280.88 210.58,1280.38 217.60,1279.80 C224.62,1279.22 229.43,1278.83 234.10,1277.60 C238.77,1276.37 241.98,1274.63 245.60,1272.40 C249.22,1270.17 252.40,1267.07 255.80,1264.20 C259.20,1261.33 263.02,1257.43 266.00,1255.20 C268.98,1252.97 271.35,1251.75 273.70,1250.80 C276.05,1249.85 277.77,1249.30 280.10,1249.50 C282.43,1249.70 284.95,1250.30 287.70,1252.00 C290.45,1253.70 293.83,1257.67 296.60,1259.70 C299.37,1261.73 302.17,1263.35 304.30,1264.20 C306.43,1265.05 307.70,1265.13 309.40,1264.80 C311.10,1264.47 312.17,1265.18 314.50,1262.20 C316.83,1259.22 320.65,1252.00 323.40,1246.90 C326.15,1241.80 328.48,1235.98 331.00,1231.60 C333.52,1227.22 336.02,1223.03 338.50,1220.60 C340.98,1218.17 343.28,1216.87 345.90,1217.00 C348.52,1217.13 351.53,1218.12 354.20,1221.40 C356.87,1224.68 359.35,1230.95 361.90,1236.70 C364.45,1242.45 366.95,1250.15 369.50,1255.90 C372.05,1261.65 374.65,1267.38 377.20,1271.20 C379.75,1275.02 382.03,1277.10 384.80,1278.80 C387.57,1280.50 392.30,1280.97 393.80,1281.40 L393.80,1281.80 L192.00,1279.80 Z" stroke="none" stroke-width="0" fill="#FFE000" stroke-linejoin="round" stroke-linecap="butt" fill-opacity="0.055"/>
<path d="M172.90,1305.90 C177.15,1305.75 190.95,1305.47 198.40,1305.00 C205.85,1304.53 212.28,1303.85 217.60,1303.10 C222.92,1302.35 226.48,1301.78 230.30,1300.50 C234.12,1299.22 237.32,1297.42 240.50,1295.40 C243.68,1293.38 246.63,1290.42 249.40,1288.40 C252.17,1286.38 254.43,1284.47 257.10,1283.30 C259.77,1282.13 262.42,1281.30 265.40,1281.40 C268.38,1281.50 271.92,1282.73 275.00,1283.90 C278.08,1285.07 280.93,1287.33 283.90,1288.40 C286.87,1289.47 290.03,1290.83 292.80,1290.30 C295.57,1289.77 297.73,1288.82 300.50,1285.20 C303.27,1281.58 306.43,1274.33 309.40,1268.60 C312.37,1262.87 315.33,1255.68 318.30,1250.80 C321.27,1245.92 324.20,1241.97 327.20,1239.30 C330.20,1236.63 333.50,1234.80 336.30,1234.80 C339.10,1234.80 341.43,1236.43 344.00,1239.30 C346.57,1242.17 349.15,1246.90 351.70,1252.00 C354.25,1257.10 356.75,1263.93 359.30,1269.90 C361.85,1275.87 364.65,1283.12 367.00,1287.80 C369.35,1292.48 371.07,1295.45 373.40,1298.00 C375.73,1300.55 378.03,1301.87 381.00,1303.10 C383.97,1304.33 384.82,1304.93 391.20,1305.40 C397.58,1305.87 414.62,1305.82 419.30,1305.90 L419.30,1305.90 L172.90,1305.00 Z" stroke="none" stroke-width="0" fill="#7A8C7A" stroke-linejoin="round" stroke-linecap="butt" fill-opacity="0.075"/>
<path d="M117.20,1304.10 C121.17,1304.40 131.72,1305.60 141.00,1305.90 C150.28,1306.20 163.33,1306.05 172.90,1305.90 C182.47,1305.75 190.95,1305.47 198.40,1305.00 C205.85,1304.53 212.28,1303.85 217.60,1303.10 C222.92,1302.35 226.48,1301.78 230.30,1300.50 C234.12,1299.22 237.32,1297.42 240.50,1295.40 C243.68,1293.38 246.63,1290.42 249.40,1288.40 C252.17,1286.38 254.43,1284.47 257.10,1283.30 C259.77,1282.13 262.42,1281.30 265.40,1281.40 C268.38,1281.50 271.92,1282.73 275.00,1283.90 C278.08,1285.07 280.93,1287.33 283.90,1288.40 C286.87,1289.47 290.03,1290.83 292.80,1290.30 C295.57,1289.77 297.73,1288.82 300.50,1285.20 C303.27,1281.58 306.43,1274.33 309.40,1268.60 C312.37,1262.87 315.33,1255.68 318.30,1250.80 C321.27,1245.92 324.20,1241.97 327.20,1239.30 C330.20,1236.63 333.50,1234.80 336.30,1234.80 C339.10,1234.80 341.43,1236.43 344.00,1239.30 C346.57,1242.17 349.15,1246.90 351.70,1252.00 C354.25,1257.10 356.75,1263.93 359.30,1269.90 C361.85,1275.87 364.65,1283.12 367.00,1287.80 C369.35,1292.48 371.07,1295.45 373.40,1298.00 C375.73,1300.55 378.03,1301.87 381.00,1303.10 C383.97,1304.33 384.82,1304.93 391.20,1305.40 C397.58,1305.87 408.23,1305.82 419.30,1305.90 C430.37,1305.98 448.03,1305.98 457.60,1305.90 C467.17,1305.82 471.60,1305.70 476.70,1305.40 C481.80,1305.10 486.28,1304.32 488.20,1304.10" stroke="#7A8C7A" stroke-width="2.0" fill="none" stroke-linejoin="round" stroke-linecap="round" />
<path d="M126.40,1279.70 C130.97,1280.02 142.87,1281.37 153.80,1281.60 C164.73,1281.83 181.37,1281.40 192.00,1281.10 C202.63,1280.80 210.58,1280.38 217.60,1279.80 C224.62,1279.22 229.43,1278.83 234.10,1277.60 C238.77,1276.37 241.98,1274.63 245.60,1272.40 C249.22,1270.17 252.40,1267.07 255.80,1264.20 C259.20,1261.33 263.02,1257.43 266.00,1255.20 C268.98,1252.97 271.35,1251.75 273.70,1250.80 C276.05,1249.85 277.77,1249.30 280.10,1249.50 C282.43,1249.70 284.95,1250.30 287.70,1252.00 C290.45,1253.70 293.83,1257.67 296.60,1259.70 C299.37,1261.73 302.17,1263.35 304.30,1264.20 C306.43,1265.05 307.70,1265.13 309.40,1264.80 C311.10,1264.47 312.17,1265.18 314.50,1262.20 C316.83,1259.22 320.65,1252.00 323.40,1246.90 C326.15,1241.80 328.48,1235.98 331.00,1231.60 C333.52,1227.22 336.02,1223.03 338.50,1220.60 C340.98,1218.17 343.28,1216.87 345.90,1217.00 C348.52,1217.13 351.53,1218.12 354.20,1221.40 C356.87,1224.68 359.35,1230.95 361.90,1236.70 C364.45,1242.45 366.95,1250.15 369.50,1255.90 C372.05,1261.65 374.65,1267.38 377.20,1271.20 C379.75,1275.02 382.03,1277.10 384.80,1278.80 C387.57,1280.50 390.18,1280.90 393.80,1281.40 C397.42,1281.90 398.00,1281.73 406.50,1281.80 C415.00,1281.87 432.03,1281.87 444.80,1281.80 C457.57,1281.73 474.35,1281.73 483.10,1281.40 C491.85,1281.07 494.93,1280.07 497.30,1279.80" stroke="#FFE000" stroke-width="2.1" fill="none" stroke-linejoin="round" stroke-linecap="round" />
<path d="M135.30,1255.20 C138.38,1255.48 147.53,1256.47 153.80,1256.90 C160.07,1257.33 164.40,1257.93 172.90,1257.80 C181.40,1257.67 195.23,1256.73 204.80,1256.10 C214.37,1255.47 223.92,1254.78 230.30,1254.00 C236.68,1253.22 239.27,1252.58 243.10,1251.40 C246.93,1250.22 249.90,1249.13 253.30,1246.90 C256.70,1244.67 260.10,1241.40 263.50,1238.00 C266.90,1234.60 270.52,1229.58 273.70,1226.50 C276.88,1223.42 279.83,1220.98 282.60,1219.50 C285.37,1218.02 287.75,1217.48 290.30,1217.60 C292.85,1217.72 295.15,1218.28 297.90,1220.20 C300.65,1222.12 304.03,1226.45 306.80,1229.10 C309.57,1231.75 312.05,1234.57 314.50,1236.10 C316.95,1237.63 319.38,1238.40 321.50,1238.30 C323.62,1238.20 324.97,1238.32 327.20,1235.50 C329.43,1232.68 332.77,1225.40 334.90,1221.40 C337.03,1217.40 338.27,1214.82 340.00,1211.50 C341.73,1208.18 342.82,1204.37 345.30,1201.50 C347.78,1198.63 351.92,1194.60 354.90,1194.30 C357.88,1194.00 360.55,1196.23 363.20,1199.70 C365.85,1203.17 368.25,1209.35 370.80,1215.10 C373.35,1220.85 375.95,1228.68 378.50,1234.20 C381.05,1239.72 383.55,1244.70 386.10,1248.20 C388.65,1251.70 390.82,1253.60 393.80,1255.20 C396.78,1256.80 399.75,1257.27 404.00,1257.80 C408.25,1258.33 410.37,1258.30 419.30,1258.40 C428.23,1258.50 445.92,1258.43 457.60,1258.40 C469.28,1258.37 481.22,1258.62 489.40,1258.20 C497.58,1257.78 503.82,1256.28 506.70,1255.90" stroke="#7CE040" stroke-width="2.0" fill="none" stroke-linejoin="round" stroke-linecap="round" />
<path d="M144.20,1230.00 C145.80,1230.00 149.02,1229.62 153.80,1230.00 C158.58,1230.38 166.53,1231.67 172.90,1232.30 C179.27,1232.93 184.55,1233.87 192.00,1233.80 C199.45,1233.73 210.15,1232.58 217.60,1231.90 C225.05,1231.22 230.97,1230.60 236.70,1229.70 C242.43,1228.80 247.75,1227.98 252.00,1226.50 C256.25,1225.02 258.80,1223.77 262.20,1220.80 C265.60,1217.83 269.00,1213.27 272.40,1208.70 C275.80,1204.13 279.42,1197.87 282.60,1193.40 C285.78,1188.93 288.73,1184.88 291.50,1181.90 C294.27,1178.92 297.07,1176.78 299.20,1175.50 C301.33,1174.22 302.38,1174.10 304.30,1174.20 C306.22,1174.30 308.15,1174.18 310.70,1176.10 C313.25,1178.02 316.85,1182.18 319.60,1185.70 C322.35,1189.22 324.97,1194.07 327.20,1197.20 C329.43,1200.33 331.05,1202.55 333.00,1204.50 C334.95,1206.45 336.63,1209.27 338.90,1208.90 C341.17,1208.53 344.05,1205.95 346.60,1202.30 C349.15,1198.65 351.65,1192.10 354.20,1187.00 C356.75,1181.90 359.35,1175.15 361.90,1171.70 C364.45,1168.25 366.95,1166.52 369.50,1166.30 C372.05,1166.08 374.65,1166.95 377.20,1170.40 C379.75,1173.85 382.25,1180.83 384.80,1187.00 C387.35,1193.17 389.93,1201.45 392.50,1207.40 C395.07,1213.35 397.65,1218.87 400.20,1222.70 C402.75,1226.53 404.83,1228.55 407.80,1230.40 C410.77,1232.25 413.97,1233.13 418.00,1233.80 C422.03,1234.47 423.28,1234.30 432.00,1234.40 C440.72,1234.50 458.60,1234.48 470.30,1234.40 C482.00,1234.32 494.65,1234.25 502.20,1233.90 C509.75,1233.55 513.37,1232.57 515.60,1232.30" stroke="#30C4F4" stroke-width="2.0" fill="none" stroke-linejoin="round" stroke-linecap="round" />
<path d="M153.40,1205.90 C155.58,1205.78 161.77,1204.90 166.50,1205.20 C171.23,1205.50 176.48,1206.95 181.80,1207.70 C187.12,1208.45 192.43,1209.50 198.40,1209.70 C204.37,1209.90 211.22,1209.33 217.60,1208.90 C223.98,1208.47 230.33,1207.88 236.70,1207.10 C243.07,1206.32 250.48,1205.32 255.80,1204.20 C261.12,1203.08 264.98,1202.20 268.60,1200.40 C272.22,1198.60 274.10,1197.48 277.50,1193.40 C280.90,1189.32 285.17,1182.00 289.00,1175.90 C292.83,1169.80 297.10,1161.68 300.50,1156.80 C303.90,1151.92 306.32,1148.90 309.40,1146.60 C312.48,1144.30 315.82,1142.78 319.00,1143.00 C322.18,1143.22 325.25,1143.98 328.50,1147.90 C331.75,1151.82 335.70,1161.47 338.50,1166.50 C341.30,1171.53 342.68,1175.15 345.30,1178.10 C347.92,1181.05 351.43,1184.00 354.20,1184.20 C356.97,1184.40 359.35,1182.67 361.90,1179.30 C364.45,1175.93 367.17,1168.45 369.50,1164.00 C371.83,1159.55 374.00,1155.12 375.90,1152.60 C377.80,1150.08 378.98,1148.70 380.90,1148.90 C382.82,1149.10 385.03,1150.43 387.40,1153.80 C389.77,1157.17 392.55,1163.57 395.10,1169.10 C397.65,1174.63 400.15,1181.90 402.70,1187.00 C405.25,1192.10 407.63,1196.30 410.40,1199.70 C413.17,1203.10 416.12,1205.65 419.30,1207.40 C422.48,1209.15 425.25,1209.60 429.50,1210.20 C433.75,1210.80 435.87,1210.87 444.80,1211.00 C453.73,1211.13 472.05,1211.13 483.10,1211.00 C494.15,1210.87 504.13,1210.58 511.10,1210.20 C518.07,1209.82 522.60,1208.95 524.90,1208.70" stroke="#5F9FCB" stroke-width="2.0" fill="none" stroke-linejoin="round" stroke-linecap="round" />
<path d="M162.30,1181.00 C163.65,1180.87 167.15,1180.10 170.40,1180.20 C173.65,1180.30 177.13,1180.85 181.80,1181.60 C186.47,1182.35 192.43,1184.18 198.40,1184.70 C204.37,1185.22 211.22,1184.92 217.60,1184.70 C223.98,1184.48 230.33,1183.93 236.70,1183.40 C243.07,1182.87 250.48,1182.13 255.80,1181.50 C261.12,1180.87 265.23,1180.27 268.60,1179.60 C271.97,1178.93 273.43,1178.85 276.00,1177.50 C278.57,1176.15 280.98,1174.92 284.00,1171.50 C287.02,1168.08 290.72,1162.43 294.10,1157.00 C297.48,1151.57 300.90,1144.25 304.30,1138.90 C307.70,1133.55 311.32,1128.40 314.50,1124.90 C317.68,1121.40 320.95,1119.28 323.40,1117.90 C325.85,1116.52 326.95,1116.28 329.20,1116.60 C331.45,1116.92 334.33,1117.47 336.90,1119.80 C339.47,1122.13 342.05,1126.35 344.60,1130.60 C347.15,1134.85 349.65,1140.83 352.20,1145.30 C354.75,1149.77 357.37,1154.52 359.90,1157.40 C362.43,1160.28 364.98,1162.70 367.40,1162.60 C369.82,1162.50 371.97,1159.68 374.40,1156.80 C376.83,1153.92 379.53,1148.07 382.00,1145.30 C384.47,1142.53 386.98,1140.30 389.20,1140.20 C391.42,1140.10 393.27,1142.12 395.30,1144.70 C397.33,1147.28 399.35,1151.78 401.40,1155.70 C403.45,1159.62 405.55,1164.60 407.60,1168.20 C409.65,1171.80 411.50,1174.75 413.70,1177.30 C415.90,1179.85 418.25,1182.05 420.80,1183.50 C423.35,1184.95 425.60,1185.50 429.00,1186.00 C432.40,1186.50 428.97,1186.42 441.20,1186.50 C453.43,1186.58 488.78,1186.58 502.40,1186.50 C516.02,1186.42 517.65,1186.37 522.90,1186.00 C528.15,1185.63 532.07,1184.58 533.90,1184.30" stroke="#BF80FF" stroke-width="2.1" fill="none" stroke-linejoin="round" stroke-linecap="round" />
<path d="M171.60,1156.60 C173.30,1156.42 178.40,1155.68 181.80,1155.50 C185.20,1155.32 188.17,1155.03 192.00,1155.50 C195.83,1155.97 200.53,1157.52 204.80,1158.30 C209.07,1159.08 213.77,1159.83 217.60,1160.20 C221.43,1160.57 223.55,1160.67 227.80,1160.50 C232.05,1160.33 237.37,1159.85 243.10,1159.20 C248.83,1158.55 256.88,1157.42 262.20,1156.60 C267.52,1155.78 271.28,1155.07 275.00,1154.30 C278.72,1153.53 281.32,1153.28 284.50,1152.00 C287.68,1150.72 291.23,1149.42 294.10,1146.60 C296.97,1143.78 299.15,1139.57 301.70,1135.10 C304.25,1130.63 306.42,1125.75 309.40,1119.80 C312.38,1113.85 316.20,1105.70 319.60,1099.40 C323.00,1093.10 326.48,1087.03 329.80,1082.00 C333.12,1076.97 337.20,1071.82 339.50,1069.20 C341.80,1066.58 342.30,1066.95 343.60,1066.30 C344.90,1065.65 346.02,1065.08 347.30,1065.30 C348.58,1065.52 349.98,1066.23 351.30,1067.60 C352.62,1068.97 353.35,1069.48 355.20,1073.50 C357.05,1077.52 359.92,1085.27 362.40,1091.70 C364.88,1098.13 367.53,1106.15 370.10,1112.10 C372.67,1118.05 375.67,1123.88 377.80,1127.40 C379.93,1130.92 381.45,1132.05 382.90,1133.20 C384.35,1134.35 384.80,1134.97 386.50,1134.30 C388.20,1133.63 390.82,1131.33 393.10,1129.20 C395.38,1127.07 398.25,1123.10 400.20,1121.50 C402.15,1119.90 403.07,1119.45 404.80,1119.60 C406.53,1119.75 408.62,1120.27 410.60,1122.40 C412.58,1124.53 414.65,1128.68 416.70,1132.40 C418.75,1136.12 420.85,1141.12 422.90,1144.70 C424.95,1148.28 426.97,1151.52 429.00,1153.90 C431.03,1156.28 432.72,1157.68 435.10,1159.00 C437.48,1160.32 439.73,1161.23 443.30,1161.80 C446.87,1162.37 446.65,1162.30 456.50,1162.40 C466.35,1162.50 490.48,1162.47 502.40,1162.40 C514.32,1162.33 521.13,1162.28 528.00,1162.00 C534.87,1161.72 541.00,1160.92 543.60,1160.70" stroke="#0A0AFF" stroke-width="2.3" fill="none" stroke-linejoin="round" stroke-linecap="round" />
<path d="M180.30,1133.20 C182.25,1132.95 188.35,1131.95 192.00,1131.70 C195.65,1131.45 199.00,1131.35 202.20,1131.70 C205.40,1132.05 208.22,1133.13 211.20,1133.80 C214.18,1134.47 216.92,1135.23 220.10,1135.70 C223.28,1136.17 226.47,1136.53 230.30,1136.60 C234.13,1136.67 237.78,1136.52 243.10,1136.10 C248.42,1135.68 256.88,1134.68 262.20,1134.10 C267.52,1133.52 271.17,1133.18 275.00,1132.60 C278.83,1132.02 282.02,1131.57 285.20,1130.60 C288.38,1129.63 291.35,1128.38 294.10,1126.80 C296.85,1125.22 299.15,1123.75 301.70,1121.10 C304.25,1118.45 306.85,1114.95 309.40,1110.90 C311.95,1106.85 314.23,1102.33 317.00,1096.80 C319.77,1091.27 323.02,1084.07 326.00,1077.70 C328.98,1071.33 332.23,1063.92 334.90,1058.60 C337.57,1053.28 339.53,1049.95 342.00,1045.80 C344.47,1041.65 347.15,1036.62 349.70,1033.70 C352.25,1030.78 354.75,1028.20 357.30,1028.30 C359.85,1028.40 362.43,1030.32 365.00,1034.30 C367.57,1038.28 370.15,1045.18 372.70,1052.20 C375.25,1059.22 377.97,1068.97 380.30,1076.40 C382.63,1083.83 384.57,1091.27 386.70,1096.80 C388.83,1102.33 390.98,1106.52 393.10,1109.60 C395.22,1112.68 397.50,1114.28 399.40,1115.30 C401.30,1116.32 402.80,1115.90 404.50,1115.70 C406.20,1115.50 407.78,1114.58 409.60,1114.10 C411.42,1113.62 413.48,1112.60 415.40,1112.80 C417.32,1113.00 419.08,1113.50 421.10,1115.30 C423.12,1117.10 425.15,1120.72 427.50,1123.60 C429.85,1126.48 432.65,1130.25 435.20,1132.60 C437.75,1134.95 440.25,1136.65 442.80,1137.70 C445.35,1138.75 447.37,1138.70 450.50,1138.90 C453.63,1139.10 452.95,1138.90 461.60,1138.90 C470.25,1138.90 490.48,1138.98 502.40,1138.90 C514.32,1138.82 524.85,1138.62 533.10,1138.40 C541.35,1138.18 548.77,1137.73 551.90,1137.60" stroke="#FF4500" stroke-width="2.4" fill="none" stroke-linejoin="round" stroke-linecap="round" />
<text font-size="22.16" transform="translate(448.79 1302.00) scale(1 1.038)">2:8</text>
<text font-size="21.92" transform="translate(458.82 1278.70) scale(1 1.038)">3:7</text>
<text font-size="21.29" transform="translate(467.87 1254.80) scale(1 1.038)">4:6</text>
<text font-size="22.21" transform="translate(476.71 1230.60) scale(1 1.038)">5:5</text>
<text font-size="22.06" transform="translate(486.10 1206.80) scale(1 1.038)">6:4</text>
<text font-size="22.16" transform="translate(495.29 1183.30) scale(1 1.038)">7:3</text>
<text font-size="22.01" transform="translate(504.31 1159.00) scale(1 1.038)">8:2</text>
<text font-size="20.69" transform="translate(513.87 1135.30) scale(1 1.038)">9:1</text>
<rect x="97.7" y="1014.1" width="470.20" height="294.10" fill="none" stroke="#000" stroke-width="3.4"/>
<line x1="116.10" y1="1308.20" x2="116.10" y2="1315.80" stroke="#000" stroke-width="3.2" stroke-linecap="butt" />
<line x1="153.32" y1="1308.20" x2="153.32" y2="1315.80" stroke="#000" stroke-width="3.2" stroke-linecap="butt" />
<line x1="190.54" y1="1308.20" x2="190.54" y2="1315.80" stroke="#000" stroke-width="3.2" stroke-linecap="butt" />
<line x1="227.76" y1="1308.20" x2="227.76" y2="1315.80" stroke="#000" stroke-width="3.2" stroke-linecap="butt" />
<line x1="264.98" y1="1308.20" x2="264.98" y2="1315.80" stroke="#000" stroke-width="3.2" stroke-linecap="butt" />
<line x1="302.20" y1="1308.20" x2="302.20" y2="1315.80" stroke="#000" stroke-width="3.2" stroke-linecap="butt" />
<line x1="339.42" y1="1308.20" x2="339.42" y2="1315.80" stroke="#000" stroke-width="3.2" stroke-linecap="butt" />
<line x1="376.64" y1="1308.20" x2="376.64" y2="1315.80" stroke="#000" stroke-width="3.2" stroke-linecap="butt" />
<line x1="413.86" y1="1308.20" x2="413.86" y2="1315.80" stroke="#000" stroke-width="3.2" stroke-linecap="butt" />
<line x1="451.08" y1="1308.20" x2="451.08" y2="1315.80" stroke="#000" stroke-width="3.2" stroke-linecap="butt" />
<line x1="488.30" y1="1308.20" x2="488.30" y2="1315.80" stroke="#000" stroke-width="3.2" stroke-linecap="butt" />
<line x1="525.52" y1="1308.20" x2="525.52" y2="1315.80" stroke="#000" stroke-width="3.2" stroke-linecap="butt" />
<line x1="562.74" y1="1308.20" x2="562.74" y2="1315.80" stroke="#000" stroke-width="3.2" stroke-linecap="butt" />
<text font-size="28.70" transform="translate(118.40 1348.80) scale(1 1.038)" text-anchor="middle">1.36</text>
<text font-size="28.70" transform="translate(192.84 1348.80) scale(1 1.038)" text-anchor="middle">1.38</text>
<text font-size="28.70" transform="translate(267.28 1348.80) scale(1 1.038)" text-anchor="middle">1.40</text>
<text font-size="28.70" transform="translate(341.72 1348.80) scale(1 1.038)" text-anchor="middle">1.42</text>
<text font-size="28.70" transform="translate(416.16 1348.80) scale(1 1.038)" text-anchor="middle">1.44</text>
<text font-size="28.70" transform="translate(490.60 1348.80) scale(1 1.038)" text-anchor="middle">1.46</text>
<line x1="94.00" y1="1307.70" x2="97.70" y2="1307.70" stroke="#000" stroke-width="2.6" stroke-linecap="butt" />
<line x1="94.00" y1="1293.53" x2="97.70" y2="1293.53" stroke="#000" stroke-width="2.6" stroke-linecap="butt" />
<line x1="94.00" y1="1279.36" x2="97.70" y2="1279.36" stroke="#000" stroke-width="2.6" stroke-linecap="butt" />
<line x1="94.00" y1="1265.19" x2="97.70" y2="1265.19" stroke="#000" stroke-width="2.6" stroke-linecap="butt" />
<line x1="94.00" y1="1251.02" x2="97.70" y2="1251.02" stroke="#000" stroke-width="2.6" stroke-linecap="butt" />
<line x1="94.00" y1="1236.85" x2="97.70" y2="1236.85" stroke="#000" stroke-width="2.6" stroke-linecap="butt" />
<line x1="94.00" y1="1222.68" x2="97.70" y2="1222.68" stroke="#000" stroke-width="2.6" stroke-linecap="butt" />
<line x1="94.00" y1="1208.51" x2="97.70" y2="1208.51" stroke="#000" stroke-width="2.6" stroke-linecap="butt" />
<line x1="94.00" y1="1194.34" x2="97.70" y2="1194.34" stroke="#000" stroke-width="2.6" stroke-linecap="butt" />
<line x1="94.00" y1="1180.17" x2="97.70" y2="1180.17" stroke="#000" stroke-width="2.6" stroke-linecap="butt" />
<line x1="94.00" y1="1166.00" x2="97.70" y2="1166.00" stroke="#000" stroke-width="2.6" stroke-linecap="butt" />
<line x1="94.00" y1="1151.83" x2="97.70" y2="1151.83" stroke="#000" stroke-width="2.6" stroke-linecap="butt" />
<line x1="94.00" y1="1137.66" x2="97.70" y2="1137.66" stroke="#000" stroke-width="2.6" stroke-linecap="butt" />
<line x1="94.00" y1="1123.49" x2="97.70" y2="1123.49" stroke="#000" stroke-width="2.6" stroke-linecap="butt" />
<line x1="94.00" y1="1109.32" x2="97.70" y2="1109.32" stroke="#000" stroke-width="2.6" stroke-linecap="butt" />
<line x1="94.00" y1="1095.15" x2="97.70" y2="1095.15" stroke="#000" stroke-width="2.6" stroke-linecap="butt" />
<line x1="94.00" y1="1080.98" x2="97.70" y2="1080.98" stroke="#000" stroke-width="2.6" stroke-linecap="butt" />
<line x1="94.00" y1="1066.81" x2="97.70" y2="1066.81" stroke="#000" stroke-width="2.6" stroke-linecap="butt" />
<line x1="94.00" y1="1052.64" x2="97.70" y2="1052.64" stroke="#000" stroke-width="2.6" stroke-linecap="butt" />
<line x1="94.00" y1="1038.47" x2="97.70" y2="1038.47" stroke="#000" stroke-width="2.6" stroke-linecap="butt" />
<line x1="94.00" y1="1024.30" x2="97.70" y2="1024.30" stroke="#000" stroke-width="2.6" stroke-linecap="butt" />
<text font-size="28.70" transform="translate(73.82 1318.48) scale(1 1.038)">0</text>
<text font-size="28.70" transform="translate(73.96 1247.63) scale(1 1.038)">1</text>
<text font-size="28.70" transform="translate(74.11 1176.78) scale(1 1.038)">2</text>
<text font-size="28.70" transform="translate(73.96 1105.93) scale(1 1.038)">3</text>
<text font-size="29.58" transform="translate(51.30 1276.16) rotate(-90) scale(1 1.0236853497664764)">Intensity (x10<tspan font-size="20.70" baseline-shift="9.76">5</tspan>)</text>
<text font-size="29.53" transform="translate(186.24 1385.60) scale(1 1.0255111452268113)">Mobility, 1/<tspan font-style="italic">K</tspan><tspan font-size="20.67" baseline-shift="-5.31">0</tspan> (V·s/cm²)</text>
<!-- panel f -->
<text font-size="41.67" transform="translate(636.36 1004.90)" font-weight="bold">f</text>
<line x1="768.60" y1="1011.90" x2="768.60" y2="1311.50" stroke="#000" stroke-width="3.0" stroke-linecap="butt" />
<line x1="755.50" y1="1013.40" x2="768.60" y2="1013.40" stroke="#000" stroke-width="3.0" stroke-linecap="butt" />
<text font-size="29.17" transform="translate(703.95 1023.25) scale(1 1.038)">100</text>
<line x1="755.50" y1="1087.55" x2="768.60" y2="1087.55" stroke="#000" stroke-width="3.0" stroke-linecap="butt" />
<text font-size="29.17" transform="translate(720.14 1097.40) scale(1 1.038)">50</text>
<line x1="755.50" y1="1161.70" x2="768.60" y2="1161.70" stroke="#000" stroke-width="3.0" stroke-linecap="butt" />
<text font-size="29.17" transform="translate(736.48 1171.55) scale(1 1.038)">0</text>
<line x1="755.50" y1="1235.85" x2="768.60" y2="1235.85" stroke="#000" stroke-width="3.0" stroke-linecap="butt" />
<text font-size="29.17" transform="translate(710.52 1245.70) scale(1 1.038)">-50</text>
<line x1="755.50" y1="1310.00" x2="768.60" y2="1310.00" stroke="#000" stroke-width="3.0" stroke-linecap="butt" />
<text font-size="29.17" transform="translate(694.33 1319.85) scale(1 1.038)">-100</text>
<line x1="755.50" y1="1310.00" x2="1242.60" y2="1310.00" stroke="#000" stroke-width="3.0" stroke-linecap="butt" />
<line x1="768.60" y1="1310.00" x2="768.60" y2="1323.20" stroke="#000" stroke-width="3.0" stroke-linecap="butt" />
<text font-size="29.17" transform="translate(768.60 1353.40) scale(1 1.038)" text-anchor="middle">-100</text>
<line x1="886.73" y1="1310.00" x2="886.73" y2="1323.20" stroke="#000" stroke-width="3.0" stroke-linecap="butt" />
<text font-size="29.17" transform="translate(886.73 1353.40) scale(1 1.038)" text-anchor="middle">-50</text>
<line x1="1004.85" y1="1310.00" x2="1004.85" y2="1323.20" stroke="#000" stroke-width="3.0" stroke-linecap="butt" />
<text font-size="29.17" transform="translate(1004.85 1353.40) scale(1 1.038)" text-anchor="middle">0</text>
<line x1="1122.97" y1="1310.00" x2="1122.97" y2="1323.20" stroke="#000" stroke-width="3.0" stroke-linecap="butt" />
<text font-size="29.17" transform="translate(1122.97 1353.40) scale(1 1.038)" text-anchor="middle">50</text>
<line x1="1241.10" y1="1310.00" x2="1241.10" y2="1323.20" stroke="#000" stroke-width="3.0" stroke-linecap="butt" />
<text font-size="29.17" transform="translate(1241.10 1353.40) scale(1 1.038)" text-anchor="middle">100</text>
<text font-size="28.81" transform="translate(681.60 1250.71) rotate(-90) scale(1 1.050967334245077)"><tspan font-style="italic">ee</tspan> (IM-MS, %)</text>
<text font-size="29.00" transform="translate(916.49 1391.00) scale(1 1.0442627965909093)"><tspan font-style="italic">ee</tspan> (HPLC, %)</text>
<text font-size="28.94" transform="translate(845.27 1046.40) scale(1 1.0463019961389963)"><tspan font-style="italic">r</tspan> = 0.9985</text>
<line x1="810.50" y1="1280.10" x2="1204.10" y2="1040.80" stroke="#0A84FF" stroke-width="3.0" stroke-linecap="round" />
<circle cx="809.40" cy="1276.30" r="4.40" fill="#0A84FF" stroke="none" stroke-width="0" />
<circle cx="831.10" cy="1273.70" r="4.40" fill="#0A84FF" stroke="none" stroke-width="0" />
<circle cx="862.80" cy="1244.10" r="4.40" fill="#0A84FF" stroke="none" stroke-width="0" />
<circle cx="866.80" cy="1249.20" r="4.40" fill="#0A84FF" stroke="none" stroke-width="0" />
<circle cx="889.80" cy="1239.30" r="4.40" fill="#0A84FF" stroke="none" stroke-width="0" />
<circle cx="910.20" cy="1213.00" r="4.40" fill="#0A84FF" stroke="none" stroke-width="0" />
<circle cx="957.40" cy="1191.30" r="4.40" fill="#0A84FF" stroke="none" stroke-width="0" />
<circle cx="988.30" cy="1168.40" r="4.40" fill="#0A84FF" stroke="none" stroke-width="0" />
<circle cx="988.80" cy="1173.50" r="4.40" fill="#0A84FF" stroke="none" stroke-width="0" />
<circle cx="1002.60" cy="1167.10" r="4.40" fill="#0A84FF" stroke="none" stroke-width="0" />
<circle cx="1006.40" cy="1168.40" r="4.40" fill="#0A84FF" stroke="none" stroke-width="0" />
<circle cx="1003.30" cy="1160.70" r="4.40" fill="#0A84FF" stroke="none" stroke-width="0" />
<circle cx="1004.30" cy="1154.30" r="4.40" fill="#0A84FF" stroke="none" stroke-width="0" />
<circle cx="1017.90" cy="1158.70" r="4.40" fill="#0A84FF" stroke="none" stroke-width="0" />
<circle cx="1027.30" cy="1147.40" r="4.40" fill="#0A84FF" stroke="none" stroke-width="0" />
<circle cx="1036.00" cy="1143.60" r="4.40" fill="#0A84FF" stroke="none" stroke-width="0" />
<circle cx="1044.90" cy="1136.00" r="4.40" fill="#0A84FF" stroke="none" stroke-width="0" />
<circle cx="1052.30" cy="1132.10" r="4.40" fill="#0A84FF" stroke="none" stroke-width="0" />
<circle cx="1060.50" cy="1127.30" r="4.40" fill="#0A84FF" stroke="none" stroke-width="0" />
<circle cx="1068.10" cy="1120.90" r="4.40" fill="#0A84FF" stroke="none" stroke-width="0" />
<circle cx="1071.40" cy="1123.50" r="4.40" fill="#0A84FF" stroke="none" stroke-width="0" />
<circle cx="1078.60" cy="1120.40" r="4.40" fill="#0A84FF" stroke="none" stroke-width="0" />
<circle cx="1100.00" cy="1104.10" r="4.40" fill="#0A84FF" stroke="none" stroke-width="0" />
<circle cx="1102.60" cy="1105.60" r="4.40" fill="#0A84FF" stroke="none" stroke-width="0" />
<circle cx="1111.70" cy="1097.20" r="4.40" fill="#0A84FF" stroke="none" stroke-width="0" />
<circle cx="1146.90" cy="1073.70" r="4.40" fill="#0A84FF" stroke="none" stroke-width="0" />
<circle cx="1165.10" cy="1063.80" r="4.40" fill="#0A84FF" stroke="none" stroke-width="0" />
<circle cx="1167.10" cy="1065.30" r="4.40" fill="#0A84FF" stroke="none" stroke-width="0" />
<circle cx="1169.90" cy="1057.70" r="4.40" fill="#0A84FF" stroke="none" stroke-width="0" />
<circle cx="1172.70" cy="1055.60" r="4.40" fill="#0A84FF" stroke="none" stroke-width="0" />
<circle cx="1174.50" cy="1052.60" r="4.40" fill="#0A84FF" stroke="none" stroke-width="0" />
<circle cx="1186.70" cy="1049.20" r="4.40" fill="#0A84FF" stroke="none" stroke-width="0" />
<circle cx="1190.60" cy="1051.50" r="4.40" fill="#0A84FF" stroke="none" stroke-width="0" />
<circle cx="1194.10" cy="1044.40" r="4.40" fill="#0A84FF" stroke="none" stroke-width="0" />
<circle cx="1202.80" cy="1047.40" r="4.40" fill="#0A84FF" stroke="none" stroke-width="0" />
<circle cx="1206.10" cy="1046.90" r="4.40" fill="#0A84FF" stroke="none" stroke-width="0" />
<!-- panel g -->
<text font-size="41.67" transform="translate(1305.76 1004.90)" font-weight="bold">g</text>
<line x1="1436.40" y1="1011.90" x2="1436.40" y2="1311.40" stroke="#000" stroke-width="3.0" stroke-linecap="butt" />
<line x1="1423.40" y1="1013.40" x2="1436.40" y2="1013.40" stroke="#000" stroke-width="3.0" stroke-linecap="butt" />
<text font-size="29.17" transform="translate(1387.64 1023.25) scale(1 1.038)">20</text>
<line x1="1423.40" y1="1087.53" x2="1436.40" y2="1087.53" stroke="#000" stroke-width="3.0" stroke-linecap="butt" />
<text font-size="29.17" transform="translate(1387.79 1097.37) scale(1 1.038)">15</text>
<line x1="1423.40" y1="1161.65" x2="1436.40" y2="1161.65" stroke="#000" stroke-width="3.0" stroke-linecap="butt" />
<text font-size="29.17" transform="translate(1387.64 1171.50) scale(1 1.038)">10</text>
<line x1="1423.40" y1="1235.78" x2="1436.40" y2="1235.78" stroke="#000" stroke-width="3.0" stroke-linecap="butt" />
<text font-size="29.17" transform="translate(1403.98 1245.62) scale(1 1.038)">5</text>
<line x1="1423.40" y1="1309.90" x2="1436.40" y2="1309.90" stroke="#000" stroke-width="3.0" stroke-linecap="butt" />
<text font-size="29.17" transform="translate(1403.98 1319.75) scale(1 1.038)">0</text>
<line x1="1423.40" y1="1309.90" x2="1911.20" y2="1309.90" stroke="#000" stroke-width="3.0" stroke-linecap="butt" />
<line x1="1469.40" y1="1309.90" x2="1469.40" y2="1322.50" stroke="#000" stroke-width="3.0" stroke-linecap="butt" />
<text font-size="29.17" transform="translate(1469.40 1350.80) scale(1 1.038)" text-anchor="middle">-8</text>
<line x1="1520.09" y1="1309.90" x2="1520.09" y2="1322.50" stroke="#000" stroke-width="3.0" stroke-linecap="butt" />
<text font-size="29.17" transform="translate(1520.09 1350.80) scale(1 1.038)" text-anchor="middle">-6</text>
<line x1="1570.78" y1="1309.90" x2="1570.78" y2="1322.50" stroke="#000" stroke-width="3.0" stroke-linecap="butt" />
<text font-size="29.17" transform="translate(1570.78 1350.80) scale(1 1.038)" text-anchor="middle">-4</text>
<line x1="1621.47" y1="1309.90" x2="1621.47" y2="1322.50" stroke="#000" stroke-width="3.0" stroke-linecap="butt" />
<text font-size="29.17" transform="translate(1621.47 1350.80) scale(1 1.038)" text-anchor="middle">-2</text>
<line x1="1672.16" y1="1309.90" x2="1672.16" y2="1322.50" stroke="#000" stroke-width="3.0" stroke-linecap="butt" />
<text font-size="29.17" transform="translate(1672.16 1350.80) scale(1 1.038)" text-anchor="middle">0</text>
<line x1="1722.85" y1="1309.90" x2="1722.85" y2="1322.50" stroke="#000" stroke-width="3.0" stroke-linecap="butt" />
<text font-size="29.17" transform="translate(1722.85 1350.80) scale(1 1.038)" text-anchor="middle">2</text>
<line x1="1773.54" y1="1309.90" x2="1773.54" y2="1322.50" stroke="#000" stroke-width="3.0" stroke-linecap="butt" />
<text font-size="29.17" transform="translate(1773.54 1350.80) scale(1 1.038)" text-anchor="middle">4</text>
<line x1="1824.23" y1="1309.90" x2="1824.23" y2="1322.50" stroke="#000" stroke-width="3.0" stroke-linecap="butt" />
<text font-size="29.17" transform="translate(1824.23 1350.80) scale(1 1.038)" text-anchor="middle">6</text>
<line x1="1874.92" y1="1309.90" x2="1874.92" y2="1322.50" stroke="#000" stroke-width="3.0" stroke-linecap="butt" />
<text font-size="29.17" transform="translate(1874.92 1350.80) scale(1 1.038)" text-anchor="middle">8</text>
<rect x="1503.39" y="1280.30" width="33.40" height="29.60" fill="#000" stroke="none" stroke-width="0" />
<rect x="1554.08" y="1265.50" width="33.40" height="44.40" fill="#000" stroke="none" stroke-width="0" />
<rect x="1604.77" y="1161.90" width="33.40" height="148.00" fill="#000" stroke="none" stroke-width="0" />
<rect x="1655.46" y="1043.50" width="33.40" height="266.40" fill="#000" stroke="none" stroke-width="0" />
<rect x="1706.15" y="1250.70" width="33.40" height="59.20" fill="#000" stroke="none" stroke-width="0" />
<rect x="1756.84" y="1295.10" width="33.40" height="14.80" fill="#000" stroke="none" stroke-width="0" />
<rect x="1807.53" y="1265.50" width="33.40" height="44.40" fill="#000" stroke="none" stroke-width="0" />
<text font-size="28.59" transform="translate(1372.20 1203.33) rotate(-90) scale(1 1.0590595136054417)">Counts</text>
<text font-size="28.95" transform="translate(1537.48 1403.00) scale(1 1.045921354041916)">Differences of <tspan font-style="italic">ee</tspan> (%)</text>
<text font-size="28.73" transform="translate(1695.70 1021.60) scale(1 1.053963755208333)">Median =</text>
<text font-size="28.15" transform="translate(1844.57 1021.60) scale(1 1.0755283088803083)">0.62%</text>
<text font-size="33.00" transform="translate(1819.68 1021.55)" font-weight="bold">−</text>
<!-- panel h -->
<text font-size="41.67" transform="translate(16.18 1509.10)" font-weight="bold">h</text>
<text font-size="16.80" transform="translate(67.19 1544.42) scale(1 1.038)">O</text>
<line x1="71.00" y1="1547.90" x2="71.00" y2="1569.20" stroke="#000" stroke-width="1.6" stroke-linecap="round" />
<line x1="76.70" y1="1547.90" x2="76.70" y2="1569.20" stroke="#000" stroke-width="1.6" stroke-linecap="round" />
<text font-size="16.80" transform="translate(40.70 1590.62) scale(1 1.038)">H</text>
<line x1="73.70" y1="1569.40" x2="55.90" y2="1578.90" stroke="#000" stroke-width="1.6" stroke-linecap="round" />
<path d="M73.70,1569.40 L100.50,1584.40 L100.50,1615.00 L127.60,1630.50 L127.60,1660.80 L145.00,1670.80" stroke="#000" stroke-width="1.6" fill="none" stroke-linejoin="round" stroke-linecap="round" />
<text font-size="16.80" transform="translate(147.86 1682.67) scale(1 1.038)" fill="#0000FF">R</text>
<text font-size="23.43" transform="translate(93.31 1711.10)" font-weight="bold">3</text>
<text font-size="16.00" transform="translate(177.62 1636.26)" font-weight="bold">+</text>
<path d="M254.60,1599.90 L281.70,1615.00 L281.70,1646.40 L254.60,1661.50 L227.80,1646.40 L227.80,1615.00 Z" stroke="#000" stroke-width="1.6" fill="none" stroke-linejoin="round" stroke-linecap="butt" />
<line x1="255.17" y1="1606.52" x2="275.77" y2="1617.99" stroke="#000" stroke-width="1.6" stroke-linecap="round" />
<line x1="275.77" y1="1643.41" x2="255.17" y2="1654.88" stroke="#000" stroke-width="1.6" stroke-linecap="round" />
<line x1="233.30" y1="1642.63" x2="233.30" y2="1618.77" stroke="#000" stroke-width="1.6" stroke-linecap="round" />
<line x1="281.70" y1="1615.00" x2="308.30" y2="1599.90" stroke="#000" stroke-width="1.6" stroke-linecap="round" />
<line x1="305.45" y1="1578.30" x2="305.45" y2="1599.70" stroke="#000" stroke-width="1.6" stroke-linecap="round" />
<line x1="311.15" y1="1578.30" x2="311.15" y2="1599.70" stroke="#000" stroke-width="1.6" stroke-linecap="round" />
<text font-size="16.80" transform="translate(301.39 1575.42) scale(1 1.038)">O</text>
<line x1="308.30" y1="1599.90" x2="334.70" y2="1615.00" stroke="#000" stroke-width="1.6" stroke-linecap="round" />
<line x1="334.70" y1="1615.00" x2="352.60" y2="1604.70" stroke="#000" stroke-width="1.6" stroke-linecap="round" />
<text font-size="17.68" transform="translate(355.89 1605.90) scale(1 1.038)">Br</text>
<text font-size="21.03" transform="translate(290.17 1711.10)" font-weight="bold">S1</text>
<text font-size="18.74" transform="translate(448.85 1569.30) scale(1 1.038)">organocatalyst (20 mol%)</text>
<text font-size="18.74" transform="translate(426.80 1596.80) scale(1 1.038)">Ru(bpy)<tspan font-size="14.06" baseline-shift="-3.75">3</tspan>Cl<tspan font-size="14.06" baseline-shift="-3.75">2</tspan>•6H<tspan font-size="14.06" baseline-shift="-3.75">2</tspan>O (0.5 mol%)</text>
<text font-size="18.78" transform="translate(473.96 1621.50) scale(1 1.038)">2,6-lutidine (2 equiv)</text>
<line x1="411.80" y1="1632.90" x2="685.40" y2="1632.90" stroke="#000" stroke-width="1.6" stroke-linecap="butt" />
<path d="M697.90,1632.90 L680.40,1628.30 L684.90,1632.90 L680.40,1637.50 Z" fill="#000"/>
<text font-size="18.71" transform="translate(451.10 1658.10) scale(1 1.038)">DMF (0.5 M),455 nm,N<tspan font-size="14.03" baseline-shift="-3.74">2</tspan></text>
<text font-size="23.05" transform="translate(379.46 1715.20) scale(1 1.038)">R = CH<tspan font-size="17.29" baseline-shift="-4.61">3</tspan></text>
<text font-size="21.83" transform="translate(477.85 1715.20)" font-weight="bold">3a</text>
<text font-size="22.90" transform="translate(503.20 1715.20) scale(1 1.038)">,</text>
<text font-size="21.56" transform="translate(516.55 1715.20)" font-weight="bold">5a</text>
<text font-size="22.82" transform="translate(562.77 1715.20) scale(1 1.038)">R =</text>
<text font-size="23.40" transform="translate(601.63 1715.20) scale(1 1.038)" fill="#0000FF">C≡CH</text>
<text font-size="22.64" transform="translate(676.43 1715.20)" font-weight="bold">3b</text>
<text font-size="22.90" transform="translate(702.80 1715.20) scale(1 1.038)">,</text>
<text font-size="22.92" transform="translate(715.91 1715.20)" font-weight="bold">5b</text>
<text font-size="16.80" transform="translate(752.79 1544.22) scale(1 1.038)">O</text>
<line x1="756.85" y1="1547.30" x2="756.85" y2="1568.80" stroke="#000" stroke-width="1.6" stroke-linecap="round" />
<line x1="762.55" y1="1547.30" x2="762.55" y2="1568.80" stroke="#000" stroke-width="1.6" stroke-linecap="round" />
<text font-size="16.80" transform="translate(726.75 1590.62) scale(1 1.038)">H</text>
<line x1="759.70" y1="1569.00" x2="741.60" y2="1579.20" stroke="#000" stroke-width="1.6" stroke-linecap="round" />
<path d="M759.70,1569.00 L786.50,1583.80 L813.00,1568.70 L839.60,1583.80 L866.20,1568.70" stroke="#000" stroke-width="1.6" fill="none" stroke-linejoin="round" stroke-linecap="round" />
<path d="M866.20,1568.70 L866.20,1537.80 L893.00,1522.60 L920.20,1537.80 L920.20,1568.70 L893.00,1584.20 Z" stroke="#000" stroke-width="1.6" fill="none" stroke-linejoin="round" stroke-linecap="butt" />
<line x1="872.18" y1="1540.85" x2="892.55" y2="1529.30" stroke="#000" stroke-width="1.6" stroke-linecap="round" />
<line x1="914.60" y1="1541.51" x2="914.60" y2="1564.99" stroke="#000" stroke-width="1.6" stroke-linecap="round" />
<line x1="892.59" y1="1577.49" x2="872.22" y2="1565.71" stroke="#000" stroke-width="1.6" stroke-linecap="round" />
<line x1="836.80" y1="1584.00" x2="836.80" y2="1606.10" stroke="#000" stroke-width="1.6" stroke-linecap="round" />
<line x1="842.50" y1="1584.00" x2="842.50" y2="1606.10" stroke="#000" stroke-width="1.6" stroke-linecap="round" />
<text font-size="16.80" transform="translate(833.09 1621.12) scale(1 1.038)">O</text>
<path d="M786.50,1583.80 L786.50,1615.10 L813.00,1630.00 L813.00,1661.20 L830.70,1671.10" stroke="#000" stroke-width="1.6" fill="none" stroke-linejoin="round" stroke-linecap="round" />
<text font-size="16.80" transform="translate(833.66 1682.67) scale(1 1.038)" fill="#0000FF">R</text>
<text font-size="15.50" transform="translate(784.54 1579.79)" font-weight="bold" fill="#FF0000">*</text>
<text font-size="23.60" transform="translate(818.49 1714.50)" font-weight="bold">5</text>
<text font-size="16.80" transform="translate(45.96 1874.97) scale(1 1.038)" fill="#0000FF">R</text>
<line x1="59.90" y1="1864.50" x2="79.30" y2="1853.05" stroke="#000" stroke-width="1.6" stroke-linecap="round" />
<line x1="79.30" y1="1853.05" x2="98.60" y2="1864.20" stroke="#000" stroke-width="1.6" stroke-linecap="round" />
<text font-size="16.80" transform="translate(99.69 1875.02) scale(1 1.038)">O</text>
<line x1="114.30" y1="1864.50" x2="133.70" y2="1853.40" stroke="#000" stroke-width="1.6" stroke-linecap="round" />
<path d="M133.70,1853.40 L133.70,1822.10 L160.90,1806.40 L188.00,1822.10 L188.00,1853.20 L160.90,1869.00 Z" stroke="#000" stroke-width="1.6" fill="none" stroke-linejoin="round" stroke-linecap="butt" />
<line x1="139.20" y1="1849.64" x2="139.20" y2="1825.86" stroke="#000" stroke-width="1.6" stroke-linecap="round" />
<line x1="161.39" y1="1813.04" x2="181.99" y2="1824.98" stroke="#000" stroke-width="1.6" stroke-linecap="round" />
<line x1="181.98" y1="1850.34" x2="161.38" y2="1862.35" stroke="#000" stroke-width="1.6" stroke-linecap="round" />
<line x1="188.00" y1="1822.10" x2="214.80" y2="1807.00" stroke="#000" stroke-width="1.6" stroke-linecap="round" />
<line x1="211.95" y1="1784.60" x2="211.95" y2="1806.80" stroke="#000" stroke-width="1.6" stroke-linecap="round" />
<line x1="217.65" y1="1784.60" x2="217.65" y2="1806.80" stroke="#000" stroke-width="1.6" stroke-linecap="round" />
<text font-size="16.80" transform="translate(208.29 1781.82) scale(1 1.038)">O</text>
<path d="M214.80,1807.00 L242.30,1822.40 L269.20,1806.70 L296.50,1822.40 L323.90,1806.40" stroke="#000" stroke-width="1.6" fill="none" stroke-linejoin="round" stroke-linecap="round" />
<text font-size="24.74" transform="translate(176.83 1908.80)" font-weight="bold">6</text>
<text font-size="19.12" transform="translate(361.17 1794.60) scale(1 1.038)">RuCl(<tspan font-family="Liberation Serif, serif">η</tspan><tspan font-size="14.34" baseline-shift="6.31">6</tspan>-cymene)(Ts-DPEN)</text>
<text font-size="19.21" transform="translate(435.15 1821.00) scale(1 1.038)">(0.5 mol%)</text>
<line x1="339.20" y1="1834.40" x2="620.20" y2="1834.40" stroke="#000" stroke-width="1.6" stroke-linecap="butt" />
<path d="M632.70,1834.40 L615.20,1829.80 L619.70,1834.40 L615.20,1839.00 Z" fill="#000"/>
<text font-size="18.94" transform="translate(374.68 1859.80) scale(1 1.038)">HCO<tspan font-size="14.20" baseline-shift="-3.79">2</tspan>Na (10 equiv), 60°C</text>
<text font-size="23.68" transform="translate(315.01 1911.80) scale(1 1.038)">R = H</text>
<text font-size="22.03" transform="translate(388.73 1911.80)" font-weight="bold">6a</text>
<text font-size="22.90" transform="translate(414.30 1911.80) scale(1 1.038)">,</text>
<text font-size="22.23" transform="translate(427.30 1911.80)" font-weight="bold">7a</text>
<text font-size="23.51" transform="translate(486.12 1911.80) scale(1 1.038)">R =</text>
<text font-size="23.93" transform="translate(525.60 1911.80) scale(1 1.038)" fill="#0000FF">C≡CH</text>
<text font-size="22.84" transform="translate(601.60 1911.80)" font-weight="bold">6b</text>
<text font-size="22.90" transform="translate(628.20 1911.80) scale(1 1.038)">,</text>
<text font-size="23.61" transform="translate(641.54 1911.80)" font-weight="bold">7b</text>
<text font-size="16.80" transform="translate(645.96 1873.17) scale(1 1.038)" fill="#0000FF">R</text>
<line x1="659.90" y1="1862.70" x2="679.30" y2="1851.25" stroke="#000" stroke-width="1.6" stroke-linecap="round" />
<line x1="679.30" y1="1851.25" x2="698.60" y2="1862.40" stroke="#000" stroke-width="1.6" stroke-linecap="round" />
<text font-size="16.80" transform="translate(699.69 1873.22) scale(1 1.038)">O</text>
<line x1="714.30" y1="1862.70" x2="733.70" y2="1851.60" stroke="#000" stroke-width="1.6" stroke-linecap="round" />
<path d="M733.70,1851.60 L733.70,1820.30 L760.90,1804.60 L788.00,1820.30 L788.00,1851.40 L760.90,1867.20 Z" stroke="#000" stroke-width="1.6" fill="none" stroke-linejoin="round" stroke-linecap="butt" />
<line x1="739.20" y1="1847.84" x2="739.20" y2="1824.06" stroke="#000" stroke-width="1.6" stroke-linecap="round" />
<line x1="761.39" y1="1811.24" x2="781.99" y2="1823.18" stroke="#000" stroke-width="1.6" stroke-linecap="round" />
<line x1="781.98" y1="1848.54" x2="761.38" y2="1860.55" stroke="#000" stroke-width="1.6" stroke-linecap="round" />
<line x1="788.00" y1="1820.30" x2="814.80" y2="1804.70" stroke="#000" stroke-width="1.6" stroke-linecap="round" />
<line x1="814.80" y1="1804.70" x2="814.80" y2="1783.40" stroke="#000" stroke-width="1.6" stroke-linecap="round" />
<text font-size="18.11" transform="translate(807.79 1779.60) scale(1 1.038)">OH</text>
<path d="M814.80,1804.70 L842.30,1820.20 L869.20,1804.70 L896.50,1820.20 L923.90,1804.20" stroke="#000" stroke-width="1.6" fill="none" stroke-linejoin="round" stroke-linecap="round" />
<text font-size="16.50" transform="translate(811.54 1827.79)" font-weight="bold" fill="#FF0000">*</text>
<text font-size="25.38" transform="translate(775.16 1908.70)" font-weight="bold">7</text>
<!-- panel i -->
<text font-size="41.67" transform="translate(969.27 1523.80)" font-weight="bold">i</text>
<rect x="1118.20" y="1732.10" width="36.70" height="97.70" fill="#409FFF" stroke="#000" stroke-width="3.0" />
<rect x="1178.00" y="1738.00" width="37.20" height="91.80" fill="#FFA040" stroke="#000" stroke-width="3.0" />
<rect x="1278.50" y="1602.60" width="36.50" height="227.20" fill="#409FFF" stroke="#000" stroke-width="3.0" />
<rect x="1338.40" y="1584.00" width="36.90" height="245.80" fill="#FFA040" stroke="#000" stroke-width="3.0" />
<line x1="1096.70" y1="1528.20" x2="1096.70" y2="1831.30" stroke="#000" stroke-width="3.0" stroke-linecap="butt" />
<line x1="1083.70" y1="1529.70" x2="1096.70" y2="1529.70" stroke="#000" stroke-width="3.0" stroke-linecap="butt" />
<text font-size="29.17" transform="translate(1032.05 1539.55) scale(1 1.038)">100</text>
<line x1="1083.70" y1="1589.72" x2="1096.70" y2="1589.72" stroke="#000" stroke-width="3.0" stroke-linecap="butt" />
<text font-size="29.17" transform="translate(1048.24 1599.57) scale(1 1.038)">80</text>
<line x1="1083.70" y1="1649.74" x2="1096.70" y2="1649.74" stroke="#000" stroke-width="3.0" stroke-linecap="butt" />
<text font-size="29.17" transform="translate(1048.24 1659.59) scale(1 1.038)">60</text>
<line x1="1083.70" y1="1709.76" x2="1096.70" y2="1709.76" stroke="#000" stroke-width="3.0" stroke-linecap="butt" />
<text font-size="29.17" transform="translate(1048.24 1719.61) scale(1 1.038)">40</text>
<line x1="1083.70" y1="1769.78" x2="1096.70" y2="1769.78" stroke="#000" stroke-width="3.0" stroke-linecap="butt" />
<text font-size="29.17" transform="translate(1048.24 1779.63) scale(1 1.038)">20</text>
<line x1="1083.70" y1="1829.80" x2="1096.70" y2="1829.80" stroke="#000" stroke-width="3.0" stroke-linecap="butt" />
<text font-size="29.17" transform="translate(1064.58 1839.65) scale(1 1.038)">0</text>
<line x1="1083.70" y1="1829.80" x2="1398.70" y2="1829.80" stroke="#000" stroke-width="3.0" stroke-linecap="butt" />
<line x1="1166.40" y1="1829.80" x2="1166.40" y2="1842.80" stroke="#000" stroke-width="3.0" stroke-linecap="butt" />
<text font-size="29.17" transform="translate(1166.40 1871.80) scale(1 1.038)" text-anchor="middle">L2</text>
<line x1="1326.30" y1="1829.80" x2="1326.30" y2="1842.80" stroke="#000" stroke-width="3.0" stroke-linecap="butt" />
<text font-size="29.17" transform="translate(1326.30 1871.80) scale(1 1.038)" text-anchor="middle">L3</text>
<line x1="1136.60" y1="1716.50" x2="1136.60" y2="1744.90" stroke="#000" stroke-width="2.7" stroke-linecap="butt" />
<line x1="1126.60" y1="1716.50" x2="1146.60" y2="1716.50" stroke="#000" stroke-width="2.7" stroke-linecap="butt" />
<line x1="1126.60" y1="1744.90" x2="1146.60" y2="1744.90" stroke="#000" stroke-width="2.7" stroke-linecap="butt" />
<circle cx="1136.60" cy="1730.90" r="6.10" fill="#000" stroke="none" stroke-width="0" />
<line x1="1196.50" y1="1727.20" x2="1196.50" y2="1746.30" stroke="#000" stroke-width="2.7" stroke-linecap="butt" />
<line x1="1186.50" y1="1727.20" x2="1206.50" y2="1727.20" stroke="#000" stroke-width="2.7" stroke-linecap="butt" />
<line x1="1186.50" y1="1746.30" x2="1206.50" y2="1746.30" stroke="#000" stroke-width="2.7" stroke-linecap="butt" />
<rect x="1190.70" y="1731.10" width="11.60" height="11.60" fill="#000" stroke="none" stroke-width="0" />
<line x1="1296.70" y1="1592.40" x2="1296.70" y2="1608.90" stroke="#000" stroke-width="2.7" stroke-linecap="butt" />
<line x1="1286.70" y1="1592.40" x2="1306.70" y2="1592.40" stroke="#000" stroke-width="2.7" stroke-linecap="butt" />
<line x1="1286.70" y1="1608.90" x2="1306.70" y2="1608.90" stroke="#000" stroke-width="2.7" stroke-linecap="butt" />
<circle cx="1296.70" cy="1601.10" r="6.10" fill="#000" stroke="none" stroke-width="0" />
<line x1="1356.90" y1="1572.30" x2="1356.90" y2="1592.70" stroke="#000" stroke-width="2.7" stroke-linecap="butt" />
<line x1="1346.90" y1="1572.30" x2="1366.90" y2="1572.30" stroke="#000" stroke-width="2.7" stroke-linecap="butt" />
<line x1="1346.90" y1="1592.70" x2="1366.90" y2="1592.70" stroke="#000" stroke-width="2.7" stroke-linecap="butt" />
<rect x="1351.10" y="1577.10" width="11.60" height="11.60" fill="#000" stroke="none" stroke-width="0" />
<rect x="1148.80" y="1529.30" width="32.30" height="18.90" fill="#0080FF" stroke="#000" stroke-width="3.0" />
<text font-size="26.88" transform="translate(1199.79 1548.40)" font-weight="bold">5a</text>
<rect x="1148.80" y="1569.60" width="32.30" height="18.50" fill="#FFA040" stroke="#000" stroke-width="3.0" />
<text font-size="27.12" transform="translate(1199.79 1588.50)" font-weight="bold">5b</text>
<text font-size="28.95" transform="translate(1015.30 1719.31) rotate(-90) scale(1 1.0459831636363637)"><tspan font-style="italic">ee</tspan> (%)</text>
<text font-size="29.49" transform="translate(1188.63 1914.70) scale(1 1.0267127337826452)">Catalysts</text>
<!-- panel j -->
<text font-size="41.67" transform="translate(1482.74 1523.80)" font-weight="bold">j</text>
<rect x="1632.90" y="1573.80" width="36.80" height="106.10" fill="#0F9D63" stroke="#000" stroke-width="3.0" />
<rect x="1692.80" y="1568.30" width="37.20" height="111.60" fill="#C46200" stroke="#000" stroke-width="3.0" />
<rect x="1792.90" y="1679.90" width="36.90" height="110.80" fill="#0F9D63" stroke="#000" stroke-width="3.0" />
<rect x="1853.00" y="1679.90" width="36.90" height="113.50" fill="#C46200" stroke="#000" stroke-width="3.0" />
<line x1="1611.50" y1="1528.50" x2="1611.50" y2="1831.30" stroke="#000" stroke-width="3.0" stroke-linecap="butt" />
<line x1="1598.30" y1="1530.00" x2="1611.50" y2="1530.00" stroke="#000" stroke-width="3.0" stroke-linecap="butt" />
<text font-size="29.17" transform="translate(1546.65 1539.85) scale(1 1.038)">100</text>
<line x1="1598.30" y1="1604.95" x2="1611.50" y2="1604.95" stroke="#000" stroke-width="3.0" stroke-linecap="butt" />
<text font-size="29.17" transform="translate(1562.84 1614.80) scale(1 1.038)">50</text>
<line x1="1598.30" y1="1679.90" x2="1611.50" y2="1679.90" stroke="#000" stroke-width="3.0" stroke-linecap="butt" />
<text font-size="29.17" transform="translate(1579.18 1689.75) scale(1 1.038)">0</text>
<line x1="1598.30" y1="1754.85" x2="1611.50" y2="1754.85" stroke="#000" stroke-width="3.0" stroke-linecap="butt" />
<text font-size="29.17" transform="translate(1553.22 1764.70) scale(1 1.038)">-50</text>
<line x1="1598.30" y1="1829.80" x2="1611.50" y2="1829.80" stroke="#000" stroke-width="3.0" stroke-linecap="butt" />
<text font-size="29.17" transform="translate(1537.03 1839.65) scale(1 1.038)">-100</text>
<line x1="1598.30" y1="1679.90" x2="1911.80" y2="1679.90" stroke="#000" stroke-width="3.0" stroke-linecap="butt" />
<line x1="1598.30" y1="1829.80" x2="1913.60" y2="1829.80" stroke="#000" stroke-width="3.0" stroke-linecap="butt" />
<line x1="1681.40" y1="1829.80" x2="1681.40" y2="1842.80" stroke="#000" stroke-width="3.0" stroke-linecap="butt" />
<text font-size="29.17" transform="translate(1681.40 1871.80) scale(1 1.038)" text-anchor="middle">R-Ru</text>
<line x1="1841.30" y1="1829.80" x2="1841.30" y2="1842.80" stroke="#000" stroke-width="3.0" stroke-linecap="butt" />
<text font-size="29.17" transform="translate(1841.30 1871.80) scale(1 1.038)" text-anchor="middle">S-Ru</text>
<line x1="1651.20" y1="1569.00" x2="1651.20" y2="1576.40" stroke="#000" stroke-width="2.7" stroke-linecap="butt" />
<line x1="1641.20" y1="1569.00" x2="1661.20" y2="1569.00" stroke="#000" stroke-width="2.7" stroke-linecap="butt" />
<line x1="1641.20" y1="1576.40" x2="1661.20" y2="1576.40" stroke="#000" stroke-width="2.7" stroke-linecap="butt" />
<circle cx="1651.20" cy="1572.70" r="5.90" fill="#000" stroke="none" stroke-width="0" />
<line x1="1711.50" y1="1561.60" x2="1711.50" y2="1571.80" stroke="#000" stroke-width="2.7" stroke-linecap="butt" />
<line x1="1701.50" y1="1561.60" x2="1721.50" y2="1561.60" stroke="#000" stroke-width="2.7" stroke-linecap="butt" />
<line x1="1701.50" y1="1571.80" x2="1721.50" y2="1571.80" stroke="#000" stroke-width="2.7" stroke-linecap="butt" />
<rect x="1705.50" y="1560.80" width="12.00" height="12.00" fill="#000" stroke="none" stroke-width="0" />
<line x1="1811.30" y1="1790.30" x2="1811.30" y2="1794.40" stroke="#000" stroke-width="2.7" stroke-linecap="butt" />
<line x1="1801.30" y1="1790.30" x2="1821.30" y2="1790.30" stroke="#000" stroke-width="2.7" stroke-linecap="butt" />
<line x1="1801.30" y1="1794.40" x2="1821.30" y2="1794.40" stroke="#000" stroke-width="2.7" stroke-linecap="butt" />
<circle cx="1811.30" cy="1792.20" r="5.90" fill="#000" stroke="none" stroke-width="0" />
<line x1="1871.60" y1="1787.10" x2="1871.60" y2="1803.30" stroke="#000" stroke-width="2.7" stroke-linecap="butt" />
<line x1="1861.60" y1="1787.10" x2="1881.60" y2="1787.10" stroke="#000" stroke-width="2.7" stroke-linecap="butt" />
<line x1="1861.60" y1="1803.30" x2="1881.60" y2="1803.30" stroke="#000" stroke-width="2.7" stroke-linecap="butt" />
<rect x="1865.60" y="1789.30" width="12.00" height="12.00" fill="#000" stroke="none" stroke-width="0" />
<rect x="1822.10" y="1531.20" width="32.60" height="18.70" fill="#0F9D63" stroke="#000" stroke-width="3.0" />
<text font-size="28.09" transform="translate(1872.04 1549.00)" font-weight="bold">7a</text>
<rect x="1822.10" y="1571.10" width="32.60" height="18.70" fill="#C46200" stroke="#000" stroke-width="3.0" />
<text font-size="28.43" transform="translate(1872.02 1589.20)" font-weight="bold">7b</text>
<text font-size="29.00" transform="translate(1520.90 1719.46) rotate(-90) scale(1 1.0441481054545454)">ee (%)</text>
<text font-size="29.54" transform="translate(1705.92 1914.70) scale(1 1.0249857148864605)">Catalysts</text>
</svg>
</body></html>
